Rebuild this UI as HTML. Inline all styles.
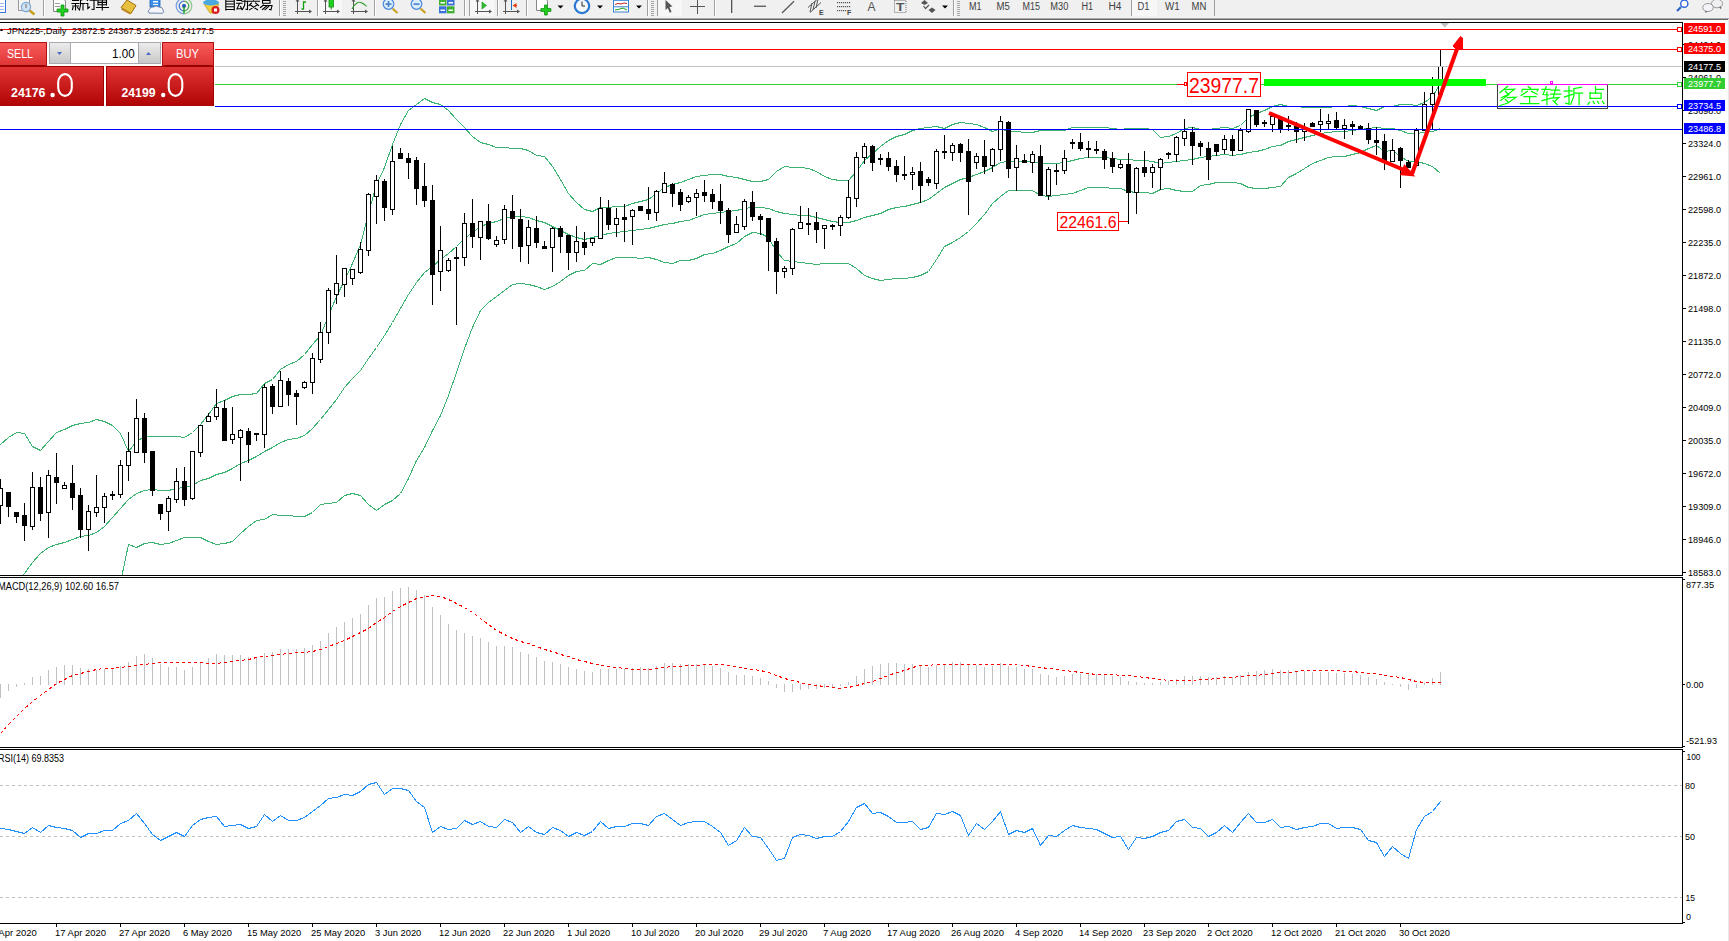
<!DOCTYPE html><html><head><meta charset="utf-8"><style>html,body{margin:0;padding:0;background:#fff;width:1729px;height:941px;overflow:hidden}svg{position:absolute;left:0;top:0}text{font-family:"Liberation Sans",sans-serif}</style></head><body>
<svg width="1729" height="941" viewBox="0 0 1729 941">
<defs><clipPath id="cm"><rect x="0" y="23" width="1682" height="552"/></clipPath><clipPath id="cmacd"><rect x="0" y="578" width="1682" height="169"/></clipPath><clipPath id="crsi"><rect x="0" y="750" width="1682" height="173"/></clipPath></defs>
<rect x="0" y="0" width="1729" height="17" fill="#f0f0f0"/>
<rect x="0" y="17" width="1729" height="1" fill="#f4f4f4"/>
<rect x="0" y="18" width="1729" height="1" fill="#a8a8a8"/>
<rect x="0" y="19" width="1729" height="1" fill="#666666"/>
<rect x="1728" y="19" width="1" height="922" fill="#e8e8e8"/>
<rect x="-1" y="-2" width="6.5" height="14.5" fill="#fff" stroke="#3a78d8" stroke-width="1"/>
<g stroke="#9bb8f0" stroke-width="1"><line x1="0" y1="3.5" x2="4" y2="3.5"/><line x1="0" y1="6.5" x2="4" y2="6.5"/><line x1="0" y1="9.5" x2="4" y2="9.5"/></g>
<rect x="18.5" y="-2" width="11" height="12.5" fill="#f4f4f4" stroke="#999" stroke-width="1"/>
<line x1="29" y1="10" x2="34.5" y2="14.5" stroke="#c8a020" stroke-width="2.5"/>
<circle cx="26" cy="7" r="4.6" fill="#cfe0f0" stroke="#7aa8d8" stroke-width="1.2"/>
<rect x="25" y="4" width="2" height="4" fill="#a0a8b0"/>
<rect x="43" y="0" width="1" height="16" fill="#a0a0a0"/><rect x="44" y="0" width="1" height="16" fill="#fff"/>
<path d="M53.5,-2 H62.5 L65.5,1 V11.5 H53.5 Z" fill="#fff" stroke="#888" stroke-width="1"/>
<g stroke="#999"><line x1="55" y1="3.5" x2="60" y2="3.5"/><line x1="55" y1="6.5" x2="60" y2="6.5"/></g>
<path d="M61,5 h3 v4 h4 v3 h-4 v4 h-3 v-4 h-4 v-3 h4 z" fill="#20d020" stroke="#109010" stroke-width="0.8"/>
<path d="M72.50,0.50 L78.50,0.50 M72.00,3.50 L79.00,3.50 M72.50,6.00 L78.50,6.00 M75.50,3.50 L75.50,10.00 M73.00,7.50 L72.50,9.50 M77.50,7.50 L78.50,9.00 M84.00,-1.00 L80.50,0.50 M80.50,0.50 L80.50,5.00 L79.50,10.00 M80.50,3.50 L84.50,3.50 M83.00,3.50 L83.00,10.00" fill="none" stroke="#000" stroke-width="1.1" stroke-linecap="square" stroke-linejoin="miter"/>
<path d="M86.50,-1.00 L87.50,0.50 M86.00,3.50 L87.80,3.50 L87.80,8.50 L89.50,7.00 M90.00,0.30 L97.00,0.30 M94.00,0.30 L94.00,9.50 L92.00,9.30" fill="none" stroke="#000" stroke-width="1.1" stroke-linecap="square" stroke-linejoin="miter"/>
<path d="M98.00,0.00 L98.00,5.00 M106.50,0.00 L106.50,5.00 M98.00,0.00 L106.50,0.00 M98.00,2.40 L106.50,2.40 M98.00,4.80 L106.50,4.80 M102.30,0.00 L102.30,10.00 M96.50,7.50 L108.50,7.50" fill="none" stroke="#000" stroke-width="1.1" stroke-linecap="square" stroke-linejoin="miter"/>
<polygon points="121,7.5 127,0 136,5.5 131,13.5" fill="#e8c040" stroke="#a07010" stroke-width="1"/>
<polygon points="122,8.5 131,13.5 130,14.5 121,9.5" fill="#c08820"/>
<rect x="150" y="-2" width="10" height="9" fill="#3a90e8" stroke="#2060c0" stroke-width="0.8"/>
<rect x="153" y="1" width="5" height="1.5" fill="#fff"/><rect x="153" y="4" width="5" height="1" fill="#fff"/>
<path d="M149,13 Q147,11 149.5,9.5 Q150,6.5 153.5,7 Q156,5 159,7 Q163,7 163,10 Q164.5,12 162.5,13.3 Z" fill="#f4f6fa" stroke="#7088b0" stroke-width="1"/>
<path d="M184,-1.8 A7.8,7.8 0 0 0 184,13.8" fill="none" stroke="#7aa0e0" stroke-width="1.3"/>
<path d="M184,-1.8 A7.8,7.8 0 0 1 184,13.8" fill="none" stroke="#90c890" stroke-width="1.3"/>
<path d="M184,1.2 A4.8,4.8 0 0 0 184,10.8" fill="none" stroke="#4a78d0" stroke-width="1.3"/>
<path d="M184,1.2 A4.8,4.8 0 0 1 184,10.8" fill="none" stroke="#50a850" stroke-width="1.3"/>
<circle cx="184" cy="6" r="2" fill="#2050c0"/>
<path d="M184,6.5 V13.5" fill="none" stroke="#20a020" stroke-width="1.5"/>
<polygon points="204,4 219,4 214,13 210,13" fill="#f0d040" stroke="#c0a020" stroke-width="0.8"/>
<ellipse cx="211" cy="2.5" rx="8" ry="3" fill="#4aa8e0"/>
<circle cx="215.5" cy="10" r="4" fill="#d82020"/><rect x="214" y="8.5" width="3" height="3" fill="#fff"/>
<path d="M228.50,-1.00 L226.50,-1.00 M225.80,-0.50 L225.80,10.00 M234.30,-0.50 L234.30,10.00 M225.80,1.20 L234.30,1.20 M225.80,4.00 L234.30,4.00 M225.80,6.80 L234.30,6.80 M225.80,9.50 L234.30,9.50" fill="none" stroke="#000" stroke-width="1.1" stroke-linecap="square" stroke-linejoin="miter"/>
<path d="M237.00,0.50 L241.50,0.50 M236.50,3.30 L242.00,3.30 M239.50,3.30 L237.00,8.80 L241.50,8.50 M240.50,6.50 L242.00,9.50 M242.00,1.30 L247.50,1.30 L247.50,9.50 L246.00,9.20 M245.00,-1.00 L244.70,5.00 L242.50,9.50" fill="none" stroke="#000" stroke-width="1.1" stroke-linecap="square" stroke-linejoin="miter"/>
<path d="M253.50,-1.50 L253.50,0.00 M248.00,1.30 L259.50,1.30 M251.50,3.00 L249.00,5.50 M255.50,3.00 L258.50,5.50 M250.50,5.00 L257.50,9.80 M257.00,5.00 L249.50,9.80" fill="none" stroke="#000" stroke-width="1.1" stroke-linecap="square" stroke-linejoin="miter"/>
<path d="M262.50,-1.00 L262.50,3.30 M270.00,-1.00 L270.00,3.30 M262.50,0.50 L270.00,0.50 M262.50,3.30 L270.00,3.30 M263.50,5.00 L260.50,7.50 M263.00,5.50 L272.00,5.50 L271.00,9.80 L269.50,9.50 M266.50,6.00 L262.50,9.50 M269.00,6.00 L265.00,9.80" fill="none" stroke="#000" stroke-width="1.1" stroke-linecap="square" stroke-linejoin="miter"/>
<rect x="279" y="0" width="1" height="16" fill="#a0a0a0"/><rect x="280" y="0" width="1" height="16" fill="#fff"/>
<rect x="283" y="1" width="3" height="1" fill="#a8a8a8"/>
<rect x="283" y="3" width="3" height="1" fill="#a8a8a8"/>
<rect x="283" y="5" width="3" height="1" fill="#a8a8a8"/>
<rect x="283" y="7" width="3" height="1" fill="#a8a8a8"/>
<rect x="283" y="9" width="3" height="1" fill="#a8a8a8"/>
<rect x="283" y="11" width="3" height="1" fill="#a8a8a8"/>
<rect x="283" y="13" width="3" height="1" fill="#a8a8a8"/>
<rect x="283" y="15" width="3" height="1" fill="#a8a8a8"/>
<g fill="#555"><rect x="297" y="0" width="1" height="14"/><rect x="295" y="11" width="14" height="1"/><polygon points="309,9.5 312,11.5 309,13.5"/><polygon points="295.5,1.5 297.5,-1 299.5,1.5"/></g>
<path d="M301.5,9 h2 v-7 h2.5" fill="none" stroke="#10a010" stroke-width="1.3"/>
<rect x="317" y="0" width="1" height="16" fill="#a0a0a0"/><rect x="318" y="0" width="1" height="16" fill="#fff"/>
<rect x="319" y="0" width="23" height="16" fill="#f7f7f7"/>
<g fill="#555"><rect x="325" y="0" width="1" height="14"/><rect x="323" y="11" width="14" height="1"/><polygon points="337,9.5 340,11.5 337,13.5"/><polygon points="323.5,1.5 325.5,-1 327.5,1.5"/></g>
<rect x="329" y="-1" width="4.5" height="8" fill="#20d020" stroke="#109010" stroke-width="0.8"/><rect x="330.7" y="7" width="1" height="2.5" fill="#109010"/>
<g fill="#555"><rect x="353" y="0" width="1" height="14"/><rect x="351" y="11" width="14" height="1"/><polygon points="365,9.5 368,11.5 365,13.5"/><polygon points="351.5,1.5 353.5,-1 355.5,1.5"/></g>
<path d="M352,9 Q357,0 362,3 T366,6.5" fill="none" stroke="#30a030" stroke-width="1.2"/>
<rect x="374" y="0" width="1" height="16" fill="#a0a0a0"/><rect x="375" y="0" width="1" height="16" fill="#fff"/>
<line x1="392.5" y1="8.5" x2="397.5" y2="13" stroke="#c8a020" stroke-width="2.2"/>
<circle cx="388.5" cy="4" r="5.3" fill="#d8ecfa" stroke="#4a88d8" stroke-width="1.2"/>
<rect x="385.5" y="3.3" width="6" height="1.6" fill="#4a80c8"/>
<rect x="387.7" y="1" width="1.6" height="6" fill="#4a80c8"/>
<line x1="420.5" y1="8.5" x2="425.5" y2="13" stroke="#c8a020" stroke-width="2.2"/>
<circle cx="416.5" cy="4" r="5.3" fill="#d8ecfa" stroke="#4a88d8" stroke-width="1.2"/>
<rect x="413.5" y="3.3" width="6" height="1.6" fill="#4a80c8"/>
<rect x="439" y="-1" width="7.5" height="6.5" fill="#40b030"/><rect x="447" y="-1" width="7.5" height="6.5" fill="#3a70d8"/><rect x="439" y="6.3" width="7.5" height="7" fill="#3a70d8"/><rect x="447" y="6.3" width="7.5" height="7" fill="#40b030"/>
<g fill="#fff"><rect x="440.5" y="2" width="4.5" height="1.5"/><rect x="448.5" y="2" width="4.5" height="1.5"/><rect x="440.5" y="9.5" width="4.5" height="1.5"/><rect x="448.5" y="9.5" width="4.5" height="1.5"/></g>
<rect x="464" y="0" width="1" height="16" fill="#a0a0a0"/><rect x="465" y="0" width="1" height="16" fill="#fff"/>
<rect x="469" y="0" width="1" height="16" fill="#a0a0a0"/>
<rect x="470" y="0" width="24" height="16" fill="#f7f7f7"/>
<g fill="#555"><rect x="477" y="0" width="1" height="14"/><rect x="475" y="11" width="14" height="1"/><polygon points="489,9.5 492,11.5 489,13.5"/><polygon points="475.5,1.5 477.5,-1 479.5,1.5"/></g>
<polygon points="482,2 486.5,5.5 482,9" fill="#30c030" stroke="#109010" stroke-width="0.6"/>
<rect x="497" y="0" width="1" height="16" fill="#a0a0a0"/><rect x="498" y="0" width="1" height="16" fill="#fff"/>
<g fill="#555"><rect x="505" y="0" width="1" height="14"/><rect x="503" y="11" width="14" height="1"/><polygon points="517,9.5 520,11.5 517,13.5"/><polygon points="503.5,1.5 505.5,-1 507.5,1.5"/></g>
<rect x="511" y="-1" width="1" height="11" fill="#2070c0"/><polygon points="512.5,5.5 516.5,3 516.5,8" fill="#e04010"/><rect x="514" y="5" width="3" height="1" fill="#e04010"/>
<rect x="526" y="0" width="1" height="16" fill="#a0a0a0"/><rect x="527" y="0" width="1" height="16" fill="#fff"/>
<path d="M536.5,-2 H545 L547.5,1 V10.5 H536.5 Z" fill="#fff" stroke="#888" stroke-width="1"/>
<path d="M544.5,5 h2.8 v3.6 h3.6 v2.8 h-3.6 v3.6 h-2.8 v-3.6 h-3.6 v-2.8 h3.6 z" fill="#20d020" stroke="#109010" stroke-width="0.8"/>
<polygon points="557.5,5.5 563.5,5.5 560.5,8.5" fill="#000"/>
<circle cx="582" cy="6" r="7.2" fill="#f4f8fc" stroke="#2a78d0" stroke-width="2.2"/>
<path d="M582,1.5 V6 H585" fill="none" stroke="#222" stroke-width="1"/>
<polygon points="597,5.5 603,5.5 600,8.5" fill="#000"/>
<rect x="613.5" y="-1.5" width="15" height="13.5" fill="#fff" stroke="#3a80d0" stroke-width="1"/>
<rect x="614" y="6.3" width="14" height="1" fill="#3a80d0"/><rect x="614" y="-1" width="14" height="2" fill="#5a9ae0"/>
<path d="M615,4.5 L618,3.5 L621,4 L624,3 L627,3.5" fill="none" stroke="#c02020" stroke-width="1"/>
<path d="M615,10 L618,9.5 L620,9 L623,8 L627,10" fill="none" stroke="#20a020" stroke-width="1"/>
<polygon points="636,5.5 642,5.5 639,8.5" fill="#000"/>
<rect x="647" y="0" width="1" height="16" fill="#a0a0a0"/><rect x="648" y="0" width="1" height="16" fill="#fff"/>
<rect x="651" y="1" width="3" height="1" fill="#a8a8a8"/>
<rect x="651" y="3" width="3" height="1" fill="#a8a8a8"/>
<rect x="651" y="5" width="3" height="1" fill="#a8a8a8"/>
<rect x="651" y="7" width="3" height="1" fill="#a8a8a8"/>
<rect x="651" y="9" width="3" height="1" fill="#a8a8a8"/>
<rect x="651" y="11" width="3" height="1" fill="#a8a8a8"/>
<rect x="651" y="13" width="3" height="1" fill="#a8a8a8"/>
<rect x="651" y="15" width="3" height="1" fill="#a8a8a8"/>
<rect x="657" y="0" width="1" height="16" fill="#a0a0a0"/>
<rect x="658" y="0" width="24" height="16" fill="#f7f7f7"/>
<polygon points="665.5,0 672.5,6.5 669.5,7 671.5,12 669.8,12.8 667.8,8 665.5,10" fill="#555"/>
<rect x="697" y="0" width="1" height="14" fill="#555"/><rect x="690" y="6" width="15" height="1" fill="#555"/>
<rect x="714" y="0" width="1" height="16" fill="#a0a0a0"/><rect x="715" y="0" width="1" height="16" fill="#fff"/>
<rect x="731" y="0" width="1.3" height="13" fill="#555"/>
<rect x="754" y="5.6" width="12" height="1.3" fill="#555"/>
<line x1="782" y1="13" x2="794" y2="1.3" stroke="#555" stroke-width="1.2"/>
<g stroke="#555" stroke-width="1"><line x1="808" y1="7.5" x2="817" y2="-0.5"/><line x1="810" y1="12.5" x2="821" y2="2.5"/><line x1="812" y1="3" x2="810" y2="12"/><line x1="815" y1="1" x2="813" y2="10"/><line x1="818" y1="-1" x2="816" y2="8"/></g>
<text x="819" y="14.8" font-size="7" font-weight="bold" fill="#444">E</text>
<g fill="#555">
<rect x="837" y="2" width="1.2" height="1.2"/>
<rect x="839" y="2" width="1.2" height="1.2"/>
<rect x="841" y="2" width="1.2" height="1.2"/>
<rect x="843" y="2" width="1.2" height="1.2"/>
<rect x="845" y="2" width="1.2" height="1.2"/>
<rect x="847" y="2" width="1.2" height="1.2"/>
<rect x="849" y="2" width="1.2" height="1.2"/>
<rect x="837" y="6" width="1.2" height="1.2"/>
<rect x="839" y="6" width="1.2" height="1.2"/>
<rect x="841" y="6" width="1.2" height="1.2"/>
<rect x="843" y="6" width="1.2" height="1.2"/>
<rect x="845" y="6" width="1.2" height="1.2"/>
<rect x="847" y="6" width="1.2" height="1.2"/>
<rect x="849" y="6" width="1.2" height="1.2"/>
<rect x="837" y="10" width="1.2" height="1.2"/>
<rect x="839" y="10" width="1.2" height="1.2"/>
<rect x="841" y="10" width="1.2" height="1.2"/>
<rect x="843" y="10" width="1.2" height="1.2"/>
<rect x="845" y="10" width="1.2" height="1.2"/>
</g>
<text x="847" y="14.8" font-size="7" font-weight="bold" fill="#444">F</text>
<text x="867.5" y="11" font-size="12" fill="#555" textLength="8" lengthAdjust="spacingAndGlyphs">A</text>
<rect x="894.5" y="0.5" width="11.5" height="12" fill="none" stroke="#555" stroke-width="0.8" stroke-dasharray="1 1"/>
<text x="896" y="11" font-size="11" font-weight="bold" fill="#555" textLength="8.5" lengthAdjust="spacingAndGlyphs">T</text>
<polygon points="921,3 924.5,0 928,3 924.5,5" fill="#555"/><polygon points="928.5,10 932,7.5 935.5,10 932,13" fill="#555"/><path d="M923.5,6 L925.5,8.5 L929,5" fill="none" stroke="#555" stroke-width="1.2"/>
<polygon points="942,5.5 948,5.5 945,8.5" fill="#000"/>
<rect x="953" y="0" width="1" height="16" fill="#a0a0a0"/><rect x="954" y="0" width="1" height="16" fill="#fff"/>
<rect x="957" y="1" width="3" height="1" fill="#a8a8a8"/>
<rect x="957" y="3" width="3" height="1" fill="#a8a8a8"/>
<rect x="957" y="5" width="3" height="1" fill="#a8a8a8"/>
<rect x="957" y="7" width="3" height="1" fill="#a8a8a8"/>
<rect x="957" y="9" width="3" height="1" fill="#a8a8a8"/>
<rect x="957" y="11" width="3" height="1" fill="#a8a8a8"/>
<rect x="957" y="13" width="3" height="1" fill="#a8a8a8"/>
<rect x="957" y="15" width="3" height="1" fill="#a8a8a8"/>
<rect x="1131" y="0" width="1" height="16" fill="#a0a0a0"/>
<rect x="1132" y="0" width="25" height="16" fill="#f7f7f7"/>
<g font-size="10" fill="#404040">
<text x="969" y="9.8" textLength="12.5" lengthAdjust="spacingAndGlyphs">M1</text>
<text x="996.5" y="9.8" textLength="13.3" lengthAdjust="spacingAndGlyphs">M5</text>
<text x="1022.5" y="9.8" textLength="17.5" lengthAdjust="spacingAndGlyphs">M15</text>
<text x="1050.3" y="9.8" textLength="18" lengthAdjust="spacingAndGlyphs">M30</text>
<text x="1081.5" y="9.8" textLength="11.7" lengthAdjust="spacingAndGlyphs">H1</text>
<text x="1108.4" y="9.8" textLength="13" lengthAdjust="spacingAndGlyphs">H4</text>
<text x="1137.4" y="9.8" textLength="12" lengthAdjust="spacingAndGlyphs">D1</text>
<text x="1165" y="9.8" textLength="14.6" lengthAdjust="spacingAndGlyphs">W1</text>
<text x="1191.6" y="9.8" textLength="14.8" lengthAdjust="spacingAndGlyphs">MN</text>
</g>
<rect x="1214" y="0" width="1" height="16" fill="#a0a0a0"/>
<line x1="1681" y1="7" x2="1677" y2="11" stroke="#2a60c8" stroke-width="2.2"/>
<circle cx="1684.3" cy="3.7" r="3.6" fill="#fff" stroke="#2a60d8" stroke-width="1.4"/>
<ellipse cx="1717" cy="3.5" rx="5.5" ry="4.3" fill="#f0f0f4" stroke="#909090" stroke-width="0.9"/>
<polygon points="1719,7 1721,9.5 1721.5,6.5" fill="#707070"/>
<ellipse cx="1708" cy="7.5" rx="5.3" ry="4" fill="#f4f4f8" stroke="#909090" stroke-width="0.9"/>
<polygon points="1705,11 1705.5,13 1708,11" fill="#707070"/>
<g shape-rendering="crispEdges">
<rect x="0" y="22" width="1683" height="1" fill="#000"/>
<rect x="0" y="575" width="1683" height="1" fill="#000"/>
<rect x="0" y="577" width="1683" height="1" fill="#000"/>
<rect x="0" y="747" width="1683" height="1" fill="#000"/>
<rect x="0" y="749" width="1683" height="1" fill="#000"/>
<rect x="0" y="923" width="1683" height="1" fill="#000"/>
<rect x="1682" y="22" width="1" height="554" fill="#000"/>
<rect x="1682" y="577" width="1" height="171" fill="#000"/>
<rect x="1682" y="749" width="1" height="175" fill="#000"/>
</g>
<g clip-path="url(#cm)" shape-rendering="crispEdges">
<polyline points="0.5,444.5 8.5,437.5 16.5,432.5 24.5,433.5 32.5,446.5 40.5,450.5 48.5,441.5 56.5,432.5 64.5,429.5 72.5,425.5 80.5,423.5 88.5,422.5 96.5,419.5 104.5,421.5 112.5,425.5 120.5,433.5 128.5,451.5 136.5,441.5 144.5,436.5 152.5,436.5 160.5,436.5 168.5,436.5 176.5,436.5 184.5,437.5 192.5,432.5 200.5,424.5 208.5,414.5 216.5,403.5 224.5,400.5 232.5,396.5 240.5,394.5 248.5,394.5 256.5,393.5 264.5,383.5 272.5,379.5 280.5,369.5 288.5,364.5 296.5,361.5 304.5,354.5 312.5,344.5 320.5,335.5 328.5,315.5 336.5,296.5 344.5,280.5 352.5,263.5 360.5,244.5 368.5,213.5 376.5,184.5 384.5,167.5 392.5,144.5 400.5,124.5 408.5,110.5 416.5,104.5 424.5,98.5 432.5,102.5 440.5,104.5 448.5,110.5 456.5,119.5 464.5,127.5 472.5,136.5 480.5,142.5 488.5,144.5 496.5,147.5 504.5,147.5 512.5,148.5 520.5,148.5 528.5,150.5 536.5,155.5 544.5,156.5 552.5,166.5 560.5,179.5 568.5,193.5 576.5,202.5 584.5,209.5 592.5,211.5 600.5,207.5 608.5,207.5 616.5,206.5 624.5,206.5 632.5,203.5 640.5,201.5 648.5,199.5 656.5,193.5 664.5,187.5 672.5,184.5 680.5,182.5 688.5,179.5 696.5,176.5 704.5,175.5 712.5,174.5 720.5,174.5 728.5,176.5 736.5,177.5 744.5,179.5 752.5,181.5 760.5,181.5 768.5,179.5 776.5,171.5 784.5,166.5 792.5,167.5 800.5,167.5 808.5,168.5 816.5,171.5 824.5,176.5 832.5,179.5 840.5,180.5 848.5,180.5 856.5,171.5 864.5,160.5 872.5,153.5 880.5,146.5 888.5,140.5 896.5,136.5 904.5,134.5 912.5,130.5 920.5,128.5 928.5,127.5 936.5,126.5 944.5,128.5 952.5,124.5 960.5,122.5 968.5,123.5 976.5,124.5 984.5,127.5 992.5,131.5 1000.5,128.5 1008.5,131.5 1016.5,131.5 1024.5,132.5 1032.5,132.5 1040.5,130.5 1048.5,130.5 1056.5,130.5 1064.5,130.5 1072.5,127.5 1080.5,127.5 1088.5,127.5 1096.5,127.5 1104.5,127.5 1112.5,128.5 1120.5,129.5 1128.5,128.5 1136.5,128.5 1144.5,128.5 1152.5,129.5 1160.5,137.5 1168.5,136.5 1176.5,133.5 1184.5,128.5 1192.5,127.5 1200.5,129.5 1208.5,129.5 1216.5,128.5 1224.5,127.5 1232.5,128.5 1240.5,125.5 1248.5,117.5 1256.5,113.5 1264.5,110.5 1272.5,106.5 1280.5,104.5 1288.5,106.5 1296.5,106.5 1304.5,107.5 1312.5,107.5 1320.5,107.5 1328.5,107.5 1336.5,106.5 1344.5,106.5 1352.5,105.5 1360.5,106.5 1368.5,108.5 1376.5,110.5 1384.5,106.5 1392.5,106.5 1400.5,104.5 1408.5,104.5 1416.5,105.5 1424.5,102.5 1432.5,96.5 1440.5,83.5" fill="none" stroke="#3cb371" stroke-width="1"/>
<polyline points="0.5,605.5 8.5,593.5 16.5,584.5 24.5,573.5 32.5,562.5 40.5,553.5 48.5,547.5 56.5,544.5 64.5,542.5 72.5,539.5 80.5,536.5 88.5,535.5 96.5,532.5 104.5,526.5 112.5,517.5 120.5,508.5 128.5,499.5 136.5,493.5 144.5,490.5 152.5,489.5 160.5,490.5 168.5,490.5 176.5,488.5 184.5,487.5 192.5,485.5 200.5,480.5 208.5,478.5 216.5,474.5 224.5,472.5 232.5,468.5 240.5,463.5 248.5,460.5 256.5,456.5 264.5,451.5 272.5,447.5 280.5,442.5 288.5,439.5 296.5,438.5 304.5,435.5 312.5,428.5 320.5,419.5 328.5,409.5 336.5,399.5 344.5,387.5 352.5,378.5 360.5,370.5 368.5,358.5 376.5,347.5 384.5,335.5 392.5,322.5 400.5,308.5 408.5,294.5 416.5,282.5 424.5,272.5 432.5,266.5 440.5,259.5 448.5,253.5 456.5,246.5 464.5,238.5 472.5,232.5 480.5,226.5 488.5,223.5 496.5,221.5 504.5,218.5 512.5,216.5 520.5,216.5 528.5,217.5 536.5,220.5 544.5,222.5 552.5,226.5 560.5,230.5 568.5,234.5 576.5,237.5 584.5,239.5 592.5,237.5 600.5,235.5 608.5,233.5 616.5,232.5 624.5,231.5 632.5,230.5 640.5,229.5 648.5,228.5 656.5,226.5 664.5,224.5 672.5,223.5 680.5,221.5 688.5,220.5 696.5,217.5 704.5,214.5 712.5,213.5 720.5,212.5 728.5,211.5 736.5,210.5 744.5,208.5 752.5,207.5 760.5,207.5 768.5,208.5 776.5,211.5 784.5,213.5 792.5,214.5 800.5,215.5 808.5,215.5 816.5,217.5 824.5,219.5 832.5,221.5 840.5,222.5 848.5,222.5 856.5,220.5 864.5,217.5 872.5,215.5 880.5,213.5 888.5,209.5 896.5,207.5 904.5,206.5 912.5,204.5 920.5,202.5 928.5,199.5 936.5,193.5 944.5,187.5 952.5,183.5 960.5,179.5 968.5,177.5 976.5,174.5 984.5,171.5 992.5,167.5 1000.5,162.5 1008.5,161.5 1016.5,161.5 1024.5,161.5 1032.5,161.5 1040.5,163.5 1048.5,163.5 1056.5,163.5 1064.5,162.5 1072.5,160.5 1080.5,158.5 1088.5,157.5 1096.5,157.5 1104.5,157.5 1112.5,158.5 1120.5,159.5 1128.5,159.5 1136.5,160.5 1144.5,160.5 1152.5,161.5 1160.5,163.5 1168.5,162.5 1176.5,161.5 1184.5,160.5 1192.5,159.5 1200.5,157.5 1208.5,156.5 1216.5,155.5 1224.5,154.5 1232.5,155.5 1240.5,154.5 1248.5,152.5 1256.5,151.5 1264.5,149.5 1272.5,146.5 1280.5,145.5 1288.5,141.5 1296.5,139.5 1304.5,137.5 1312.5,135.5 1320.5,133.5 1328.5,132.5 1336.5,131.5 1344.5,131.5 1352.5,130.5 1360.5,129.5 1368.5,128.5 1376.5,127.5 1384.5,128.5 1392.5,128.5 1400.5,130.5 1408.5,133.5 1416.5,133.5 1424.5,132.5 1432.5,131.5 1440.5,128.5" fill="none" stroke="#3cb371" stroke-width="1"/>
<polyline points="112.5,610.5 120.5,582.5 128.5,544.5 136.5,547.5 144.5,543.5 152.5,542.5 160.5,544.5 168.5,543.5 176.5,540.5 184.5,537.5 192.5,537.5 200.5,537.5 208.5,541.5 216.5,544.5 224.5,543.5 232.5,541.5 240.5,533.5 248.5,526.5 256.5,520.5 264.5,519.5 272.5,514.5 280.5,515.5 288.5,515.5 296.5,516.5 304.5,516.5 312.5,512.5 320.5,504.5 328.5,503.5 336.5,502.5 344.5,495.5 352.5,493.5 360.5,495.5 368.5,504.5 376.5,510.5 384.5,504.5 392.5,500.5 400.5,493.5 408.5,478.5 416.5,460.5 424.5,447.5 432.5,430.5 440.5,415.5 448.5,395.5 456.5,372.5 464.5,348.5 472.5,327.5 480.5,310.5 488.5,302.5 496.5,296.5 504.5,290.5 512.5,284.5 520.5,283.5 528.5,284.5 536.5,286.5 544.5,289.5 552.5,286.5 560.5,281.5 568.5,275.5 576.5,271.5 584.5,270.5 592.5,263.5 600.5,264.5 608.5,260.5 616.5,257.5 624.5,257.5 632.5,257.5 640.5,258.5 648.5,257.5 656.5,259.5 664.5,262.5 672.5,263.5 680.5,260.5 688.5,260.5 696.5,258.5 704.5,254.5 712.5,253.5 720.5,250.5 728.5,246.5 736.5,243.5 744.5,236.5 752.5,232.5 760.5,233.5 768.5,237.5 776.5,251.5 784.5,260.5 792.5,261.5 800.5,262.5 808.5,263.5 816.5,264.5 824.5,263.5 832.5,263.5 840.5,263.5 848.5,263.5 856.5,268.5 864.5,275.5 872.5,278.5 880.5,280.5 888.5,279.5 896.5,278.5 904.5,278.5 912.5,277.5 920.5,275.5 928.5,271.5 936.5,259.5 944.5,246.5 952.5,242.5 960.5,237.5 968.5,231.5 976.5,223.5 984.5,214.5 992.5,203.5 1000.5,196.5 1008.5,190.5 1016.5,190.5 1024.5,190.5 1032.5,190.5 1040.5,195.5 1048.5,196.5 1056.5,195.5 1064.5,194.5 1072.5,193.5 1080.5,190.5 1088.5,187.5 1096.5,187.5 1104.5,187.5 1112.5,188.5 1120.5,188.5 1128.5,191.5 1136.5,192.5 1144.5,192.5 1152.5,193.5 1160.5,189.5 1168.5,188.5 1176.5,190.5 1184.5,191.5 1192.5,191.5 1200.5,185.5 1208.5,184.5 1216.5,182.5 1224.5,182.5 1232.5,182.5 1240.5,183.5 1248.5,187.5 1256.5,188.5 1264.5,188.5 1272.5,187.5 1280.5,186.5 1288.5,177.5 1296.5,173.5 1304.5,168.5 1312.5,163.5 1320.5,160.5 1328.5,157.5 1336.5,156.5 1344.5,156.5 1352.5,154.5 1360.5,152.5 1368.5,148.5 1376.5,145.5 1384.5,151.5 1392.5,150.5 1400.5,156.5 1408.5,161.5 1416.5,161.5 1424.5,163.5 1432.5,166.5 1440.5,173.5" fill="none" stroke="#3cb371" stroke-width="1"/>
<rect x="0" y="479" width="1" height="45" fill="#000"/>
<rect x="-2" y="488" width="5" height="18" fill="#000"/>
<rect x="-1" y="489" width="3" height="16" fill="#fff"/>
<rect x="8" y="492" width="1" height="25" fill="#000"/>
<rect x="6" y="492" width="5" height="15" fill="#000"/>
<rect x="16" y="512" width="1" height="11" fill="#000"/>
<rect x="14" y="512" width="5" height="5" fill="#000"/>
<rect x="24" y="503" width="1" height="38" fill="#000"/>
<rect x="22" y="515" width="5" height="11" fill="#000"/>
<rect x="32" y="472" width="1" height="58" fill="#000"/>
<rect x="30" y="487" width="5" height="40" fill="#000"/>
<rect x="31" y="488" width="3" height="38" fill="#fff"/>
<rect x="40" y="477" width="1" height="44" fill="#000"/>
<rect x="38" y="487" width="5" height="27" fill="#000"/>
<rect x="48" y="470" width="1" height="68" fill="#000"/>
<rect x="46" y="475" width="5" height="38" fill="#000"/>
<rect x="47" y="476" width="3" height="36" fill="#fff"/>
<rect x="56" y="453" width="1" height="51" fill="#000"/>
<rect x="54" y="477" width="5" height="6" fill="#000"/>
<rect x="64" y="482" width="1" height="7" fill="#000"/>
<rect x="62" y="485" width="5" height="4" fill="#000"/>
<rect x="63" y="486" width="3" height="2" fill="#fff"/>
<rect x="72" y="465" width="1" height="45" fill="#000"/>
<rect x="70" y="483" width="5" height="15" fill="#000"/>
<rect x="80" y="488" width="1" height="50" fill="#000"/>
<rect x="78" y="495" width="5" height="35" fill="#000"/>
<rect x="88" y="505" width="1" height="46" fill="#000"/>
<rect x="86" y="511" width="5" height="19" fill="#000"/>
<rect x="87" y="512" width="3" height="17" fill="#fff"/>
<rect x="96" y="475" width="1" height="42" fill="#000"/>
<rect x="94" y="507" width="5" height="6" fill="#000"/>
<rect x="95" y="508" width="3" height="4" fill="#fff"/>
<rect x="104" y="493" width="1" height="30" fill="#000"/>
<rect x="102" y="496" width="5" height="12" fill="#000"/>
<rect x="103" y="497" width="3" height="10" fill="#fff"/>
<rect x="112" y="491" width="1" height="9" fill="#000"/>
<rect x="110" y="494" width="5" height="2" fill="#000"/>
<rect x="120" y="460" width="1" height="38" fill="#000"/>
<rect x="118" y="465" width="5" height="30" fill="#000"/>
<rect x="119" y="466" width="3" height="28" fill="#fff"/>
<rect x="128" y="432" width="1" height="49" fill="#000"/>
<rect x="126" y="451" width="5" height="15" fill="#000"/>
<rect x="127" y="452" width="3" height="13" fill="#fff"/>
<rect x="136" y="399" width="1" height="54" fill="#000"/>
<rect x="134" y="418" width="5" height="35" fill="#000"/>
<rect x="135" y="419" width="3" height="33" fill="#fff"/>
<rect x="144" y="413" width="1" height="50" fill="#000"/>
<rect x="142" y="418" width="5" height="35" fill="#000"/>
<rect x="152" y="451" width="1" height="45" fill="#000"/>
<rect x="150" y="451" width="5" height="40" fill="#000"/>
<rect x="160" y="504" width="1" height="16" fill="#000"/>
<rect x="158" y="504" width="5" height="10" fill="#000"/>
<rect x="168" y="496" width="1" height="35" fill="#000"/>
<rect x="166" y="498" width="5" height="14" fill="#000"/>
<rect x="167" y="499" width="3" height="12" fill="#fff"/>
<rect x="176" y="468" width="1" height="35" fill="#000"/>
<rect x="174" y="481" width="5" height="19" fill="#000"/>
<rect x="175" y="482" width="3" height="17" fill="#fff"/>
<rect x="184" y="467" width="1" height="39" fill="#000"/>
<rect x="182" y="481" width="5" height="19" fill="#000"/>
<rect x="192" y="451" width="1" height="49" fill="#000"/>
<rect x="190" y="451" width="5" height="48" fill="#000"/>
<rect x="191" y="452" width="3" height="46" fill="#fff"/>
<rect x="200" y="425" width="1" height="32" fill="#000"/>
<rect x="198" y="425" width="5" height="28" fill="#000"/>
<rect x="199" y="426" width="3" height="26" fill="#fff"/>
<rect x="208" y="413" width="1" height="9" fill="#000"/>
<rect x="206" y="416" width="5" height="6" fill="#000"/>
<rect x="207" y="417" width="3" height="4" fill="#fff"/>
<rect x="216" y="389" width="1" height="31" fill="#000"/>
<rect x="214" y="407" width="5" height="10" fill="#000"/>
<rect x="215" y="408" width="3" height="8" fill="#fff"/>
<rect x="224" y="400" width="1" height="41" fill="#000"/>
<rect x="222" y="408" width="5" height="33" fill="#000"/>
<rect x="232" y="407" width="1" height="37" fill="#000"/>
<rect x="230" y="434" width="5" height="6" fill="#000"/>
<rect x="231" y="435" width="3" height="4" fill="#fff"/>
<rect x="240" y="429" width="1" height="52" fill="#000"/>
<rect x="238" y="430" width="5" height="8" fill="#000"/>
<rect x="239" y="431" width="3" height="6" fill="#fff"/>
<rect x="248" y="428" width="1" height="35" fill="#000"/>
<rect x="246" y="431" width="5" height="14" fill="#000"/>
<rect x="256" y="433" width="1" height="8" fill="#000"/>
<rect x="254" y="433" width="5" height="2" fill="#000"/>
<rect x="264" y="384" width="1" height="64" fill="#000"/>
<rect x="262" y="387" width="5" height="48" fill="#000"/>
<rect x="263" y="388" width="3" height="46" fill="#fff"/>
<rect x="272" y="384" width="1" height="30" fill="#000"/>
<rect x="270" y="386" width="5" height="21" fill="#000"/>
<rect x="280" y="371" width="1" height="36" fill="#000"/>
<rect x="278" y="380" width="5" height="27" fill="#000"/>
<rect x="279" y="381" width="3" height="25" fill="#fff"/>
<rect x="288" y="378" width="1" height="28" fill="#000"/>
<rect x="286" y="381" width="5" height="14" fill="#000"/>
<rect x="296" y="390" width="1" height="35" fill="#000"/>
<rect x="294" y="393" width="5" height="4" fill="#000"/>
<rect x="304" y="381" width="1" height="8" fill="#000"/>
<rect x="302" y="382" width="5" height="6" fill="#000"/>
<rect x="303" y="383" width="3" height="4" fill="#fff"/>
<rect x="312" y="353" width="1" height="41" fill="#000"/>
<rect x="310" y="358" width="5" height="25" fill="#000"/>
<rect x="311" y="359" width="3" height="23" fill="#fff"/>
<rect x="320" y="322" width="1" height="41" fill="#000"/>
<rect x="318" y="332" width="5" height="28" fill="#000"/>
<rect x="319" y="333" width="3" height="26" fill="#fff"/>
<rect x="328" y="288" width="1" height="56" fill="#000"/>
<rect x="326" y="290" width="5" height="43" fill="#000"/>
<rect x="327" y="291" width="3" height="41" fill="#fff"/>
<rect x="336" y="255" width="1" height="49" fill="#000"/>
<rect x="334" y="283" width="5" height="12" fill="#000"/>
<rect x="335" y="284" width="3" height="10" fill="#fff"/>
<rect x="344" y="268" width="1" height="29" fill="#000"/>
<rect x="342" y="268" width="5" height="17" fill="#000"/>
<rect x="343" y="269" width="3" height="15" fill="#fff"/>
<rect x="352" y="269" width="1" height="16" fill="#000"/>
<rect x="350" y="269" width="5" height="10" fill="#000"/>
<rect x="351" y="270" width="3" height="8" fill="#fff"/>
<rect x="360" y="242" width="1" height="32" fill="#000"/>
<rect x="358" y="249" width="5" height="24" fill="#000"/>
<rect x="359" y="250" width="3" height="22" fill="#fff"/>
<rect x="368" y="193" width="1" height="63" fill="#000"/>
<rect x="366" y="194" width="5" height="57" fill="#000"/>
<rect x="367" y="195" width="3" height="55" fill="#fff"/>
<rect x="376" y="175" width="1" height="49" fill="#000"/>
<rect x="374" y="180" width="5" height="17" fill="#000"/>
<rect x="375" y="181" width="3" height="15" fill="#fff"/>
<rect x="384" y="179" width="1" height="42" fill="#000"/>
<rect x="382" y="181" width="5" height="27" fill="#000"/>
<rect x="392" y="146" width="1" height="69" fill="#000"/>
<rect x="390" y="161" width="5" height="49" fill="#000"/>
<rect x="391" y="162" width="3" height="47" fill="#fff"/>
<rect x="400" y="148" width="1" height="11" fill="#000"/>
<rect x="398" y="153" width="5" height="6" fill="#000"/>
<rect x="408" y="153" width="1" height="26" fill="#000"/>
<rect x="406" y="158" width="5" height="5" fill="#000"/>
<rect x="416" y="157" width="1" height="48" fill="#000"/>
<rect x="414" y="160" width="5" height="29" fill="#000"/>
<rect x="424" y="163" width="1" height="44" fill="#000"/>
<rect x="422" y="186" width="5" height="15" fill="#000"/>
<rect x="432" y="185" width="1" height="120" fill="#000"/>
<rect x="430" y="200" width="5" height="75" fill="#000"/>
<rect x="440" y="226" width="1" height="65" fill="#000"/>
<rect x="438" y="250" width="5" height="22" fill="#000"/>
<rect x="439" y="251" width="3" height="20" fill="#fff"/>
<rect x="448" y="258" width="1" height="14" fill="#000"/>
<rect x="446" y="260" width="5" height="11" fill="#000"/>
<rect x="447" y="261" width="3" height="9" fill="#fff"/>
<rect x="456" y="247" width="1" height="78" fill="#000"/>
<rect x="454" y="257" width="5" height="2" fill="#000"/>
<rect x="464" y="213" width="1" height="53" fill="#000"/>
<rect x="462" y="223" width="5" height="35" fill="#000"/>
<rect x="463" y="224" width="3" height="33" fill="#fff"/>
<rect x="472" y="199" width="1" height="49" fill="#000"/>
<rect x="470" y="223" width="5" height="14" fill="#000"/>
<rect x="480" y="221" width="1" height="39" fill="#000"/>
<rect x="478" y="221" width="5" height="17" fill="#000"/>
<rect x="479" y="222" width="3" height="15" fill="#fff"/>
<rect x="488" y="204" width="1" height="36" fill="#000"/>
<rect x="486" y="221" width="5" height="18" fill="#000"/>
<rect x="496" y="236" width="1" height="11" fill="#000"/>
<rect x="494" y="240" width="5" height="5" fill="#000"/>
<rect x="495" y="241" width="3" height="3" fill="#fff"/>
<rect x="504" y="205" width="1" height="39" fill="#000"/>
<rect x="502" y="209" width="5" height="31" fill="#000"/>
<rect x="503" y="210" width="3" height="29" fill="#fff"/>
<rect x="512" y="195" width="1" height="54" fill="#000"/>
<rect x="510" y="211" width="5" height="8" fill="#000"/>
<rect x="520" y="209" width="1" height="53" fill="#000"/>
<rect x="518" y="219" width="5" height="28" fill="#000"/>
<rect x="528" y="220" width="1" height="44" fill="#000"/>
<rect x="526" y="227" width="5" height="19" fill="#000"/>
<rect x="527" y="228" width="3" height="17" fill="#fff"/>
<rect x="536" y="216" width="1" height="32" fill="#000"/>
<rect x="534" y="228" width="5" height="15" fill="#000"/>
<rect x="544" y="241" width="1" height="8" fill="#000"/>
<rect x="542" y="246" width="5" height="3" fill="#000"/>
<rect x="552" y="227" width="1" height="45" fill="#000"/>
<rect x="550" y="228" width="5" height="20" fill="#000"/>
<rect x="551" y="229" width="3" height="18" fill="#fff"/>
<rect x="560" y="226" width="1" height="27" fill="#000"/>
<rect x="558" y="228" width="5" height="9" fill="#000"/>
<rect x="568" y="235" width="1" height="35" fill="#000"/>
<rect x="566" y="235" width="5" height="18" fill="#000"/>
<rect x="576" y="226" width="1" height="36" fill="#000"/>
<rect x="574" y="241" width="5" height="12" fill="#000"/>
<rect x="575" y="242" width="3" height="10" fill="#fff"/>
<rect x="584" y="232" width="1" height="23" fill="#000"/>
<rect x="582" y="242" width="5" height="6" fill="#000"/>
<rect x="592" y="238" width="1" height="8" fill="#000"/>
<rect x="590" y="238" width="5" height="5" fill="#000"/>
<rect x="591" y="239" width="3" height="3" fill="#fff"/>
<rect x="600" y="197" width="1" height="42" fill="#000"/>
<rect x="598" y="208" width="5" height="31" fill="#000"/>
<rect x="599" y="209" width="3" height="29" fill="#fff"/>
<rect x="608" y="200" width="1" height="30" fill="#000"/>
<rect x="606" y="208" width="5" height="17" fill="#000"/>
<rect x="616" y="208" width="1" height="29" fill="#000"/>
<rect x="614" y="218" width="5" height="7" fill="#000"/>
<rect x="615" y="219" width="3" height="5" fill="#fff"/>
<rect x="624" y="204" width="1" height="38" fill="#000"/>
<rect x="622" y="217" width="5" height="3" fill="#000"/>
<rect x="632" y="209" width="1" height="36" fill="#000"/>
<rect x="630" y="210" width="5" height="7" fill="#000"/>
<rect x="631" y="211" width="3" height="5" fill="#fff"/>
<rect x="640" y="206" width="1" height="5" fill="#000"/>
<rect x="638" y="206" width="5" height="5" fill="#000"/>
<rect x="648" y="187" width="1" height="33" fill="#000"/>
<rect x="646" y="209" width="5" height="5" fill="#000"/>
<rect x="656" y="190" width="1" height="31" fill="#000"/>
<rect x="654" y="191" width="5" height="22" fill="#000"/>
<rect x="655" y="192" width="3" height="20" fill="#fff"/>
<rect x="664" y="172" width="1" height="21" fill="#000"/>
<rect x="662" y="183" width="5" height="10" fill="#000"/>
<rect x="663" y="184" width="3" height="8" fill="#fff"/>
<rect x="672" y="183" width="1" height="24" fill="#000"/>
<rect x="670" y="184" width="5" height="10" fill="#000"/>
<rect x="680" y="189" width="1" height="22" fill="#000"/>
<rect x="678" y="192" width="5" height="13" fill="#000"/>
<rect x="688" y="195" width="1" height="8" fill="#000"/>
<rect x="686" y="197" width="5" height="5" fill="#000"/>
<rect x="687" y="198" width="3" height="3" fill="#fff"/>
<rect x="696" y="189" width="1" height="27" fill="#000"/>
<rect x="694" y="193" width="5" height="5" fill="#000"/>
<rect x="695" y="194" width="3" height="3" fill="#fff"/>
<rect x="704" y="180" width="1" height="22" fill="#000"/>
<rect x="702" y="192" width="5" height="4" fill="#000"/>
<rect x="712" y="189" width="1" height="20" fill="#000"/>
<rect x="710" y="194" width="5" height="8" fill="#000"/>
<rect x="720" y="184" width="1" height="40" fill="#000"/>
<rect x="718" y="201" width="5" height="10" fill="#000"/>
<rect x="728" y="208" width="1" height="35" fill="#000"/>
<rect x="726" y="210" width="5" height="25" fill="#000"/>
<rect x="736" y="216" width="1" height="17" fill="#000"/>
<rect x="734" y="224" width="5" height="9" fill="#000"/>
<rect x="735" y="225" width="3" height="7" fill="#fff"/>
<rect x="744" y="199" width="1" height="31" fill="#000"/>
<rect x="742" y="201" width="5" height="26" fill="#000"/>
<rect x="743" y="202" width="3" height="24" fill="#fff"/>
<rect x="752" y="191" width="1" height="30" fill="#000"/>
<rect x="750" y="202" width="5" height="15" fill="#000"/>
<rect x="760" y="214" width="1" height="21" fill="#000"/>
<rect x="758" y="216" width="5" height="4" fill="#000"/>
<rect x="768" y="218" width="1" height="53" fill="#000"/>
<rect x="766" y="218" width="5" height="24" fill="#000"/>
<rect x="776" y="238" width="1" height="56" fill="#000"/>
<rect x="774" y="241" width="5" height="31" fill="#000"/>
<rect x="784" y="266" width="1" height="12" fill="#000"/>
<rect x="782" y="268" width="5" height="4" fill="#000"/>
<rect x="783" y="269" width="3" height="2" fill="#fff"/>
<rect x="792" y="228" width="1" height="47" fill="#000"/>
<rect x="790" y="229" width="5" height="40" fill="#000"/>
<rect x="791" y="230" width="3" height="38" fill="#fff"/>
<rect x="800" y="206" width="1" height="23" fill="#000"/>
<rect x="798" y="222" width="5" height="7" fill="#000"/>
<rect x="799" y="223" width="3" height="5" fill="#fff"/>
<rect x="808" y="208" width="1" height="27" fill="#000"/>
<rect x="806" y="223" width="5" height="2" fill="#000"/>
<rect x="816" y="212" width="1" height="31" fill="#000"/>
<rect x="814" y="222" width="5" height="8" fill="#000"/>
<rect x="824" y="225" width="1" height="24" fill="#000"/>
<rect x="822" y="225" width="5" height="4" fill="#000"/>
<rect x="823" y="226" width="3" height="2" fill="#fff"/>
<rect x="832" y="224" width="1" height="6" fill="#000"/>
<rect x="830" y="225" width="5" height="2" fill="#000"/>
<rect x="840" y="215" width="1" height="21" fill="#000"/>
<rect x="838" y="217" width="5" height="9" fill="#000"/>
<rect x="839" y="218" width="3" height="7" fill="#fff"/>
<rect x="848" y="180" width="1" height="39" fill="#000"/>
<rect x="846" y="197" width="5" height="21" fill="#000"/>
<rect x="847" y="198" width="3" height="19" fill="#fff"/>
<rect x="856" y="152" width="1" height="55" fill="#000"/>
<rect x="854" y="157" width="5" height="42" fill="#000"/>
<rect x="855" y="158" width="3" height="40" fill="#fff"/>
<rect x="864" y="143" width="1" height="21" fill="#000"/>
<rect x="862" y="146" width="5" height="12" fill="#000"/>
<rect x="863" y="147" width="3" height="10" fill="#fff"/>
<rect x="872" y="145" width="1" height="26" fill="#000"/>
<rect x="870" y="146" width="5" height="17" fill="#000"/>
<rect x="880" y="154" width="1" height="11" fill="#000"/>
<rect x="878" y="158" width="5" height="2" fill="#000"/>
<rect x="888" y="152" width="1" height="19" fill="#000"/>
<rect x="886" y="158" width="5" height="9" fill="#000"/>
<rect x="896" y="160" width="1" height="22" fill="#000"/>
<rect x="894" y="166" width="5" height="9" fill="#000"/>
<rect x="904" y="156" width="1" height="24" fill="#000"/>
<rect x="902" y="174" width="5" height="2" fill="#000"/>
<rect x="912" y="167" width="1" height="23" fill="#000"/>
<rect x="910" y="172" width="5" height="3" fill="#000"/>
<rect x="911" y="173" width="3" height="1" fill="#fff"/>
<rect x="920" y="162" width="1" height="41" fill="#000"/>
<rect x="918" y="171" width="5" height="15" fill="#000"/>
<rect x="928" y="177" width="1" height="9" fill="#000"/>
<rect x="926" y="179" width="5" height="4" fill="#000"/>
<rect x="936" y="149" width="1" height="40" fill="#000"/>
<rect x="934" y="151" width="5" height="33" fill="#000"/>
<rect x="935" y="152" width="3" height="31" fill="#fff"/>
<rect x="944" y="135" width="1" height="24" fill="#000"/>
<rect x="942" y="151" width="5" height="2" fill="#000"/>
<rect x="952" y="143" width="1" height="18" fill="#000"/>
<rect x="950" y="145" width="5" height="8" fill="#000"/>
<rect x="951" y="146" width="3" height="6" fill="#fff"/>
<rect x="960" y="143" width="1" height="19" fill="#000"/>
<rect x="958" y="144" width="5" height="9" fill="#000"/>
<rect x="968" y="139" width="1" height="76" fill="#000"/>
<rect x="966" y="151" width="5" height="31" fill="#000"/>
<rect x="976" y="153" width="1" height="16" fill="#000"/>
<rect x="974" y="156" width="5" height="7" fill="#000"/>
<rect x="975" y="157" width="3" height="5" fill="#fff"/>
<rect x="984" y="140" width="1" height="34" fill="#000"/>
<rect x="982" y="156" width="5" height="11" fill="#000"/>
<rect x="992" y="148" width="1" height="24" fill="#000"/>
<rect x="990" y="149" width="5" height="17" fill="#000"/>
<rect x="991" y="150" width="3" height="15" fill="#fff"/>
<rect x="1000" y="116" width="1" height="45" fill="#000"/>
<rect x="998" y="121" width="5" height="29" fill="#000"/>
<rect x="999" y="122" width="3" height="27" fill="#fff"/>
<rect x="1008" y="121" width="1" height="57" fill="#000"/>
<rect x="1006" y="122" width="5" height="47" fill="#000"/>
<rect x="1016" y="145" width="1" height="46" fill="#000"/>
<rect x="1014" y="158" width="5" height="10" fill="#000"/>
<rect x="1015" y="159" width="3" height="8" fill="#fff"/>
<rect x="1024" y="154" width="1" height="9" fill="#000"/>
<rect x="1022" y="160" width="5" height="3" fill="#000"/>
<rect x="1032" y="151" width="1" height="22" fill="#000"/>
<rect x="1030" y="154" width="5" height="9" fill="#000"/>
<rect x="1031" y="155" width="3" height="7" fill="#fff"/>
<rect x="1040" y="145" width="1" height="51" fill="#000"/>
<rect x="1038" y="156" width="5" height="40" fill="#000"/>
<rect x="1048" y="167" width="1" height="33" fill="#000"/>
<rect x="1046" y="169" width="5" height="27" fill="#000"/>
<rect x="1047" y="170" width="3" height="25" fill="#fff"/>
<rect x="1056" y="164" width="1" height="21" fill="#000"/>
<rect x="1054" y="170" width="5" height="2" fill="#000"/>
<rect x="1064" y="150" width="1" height="24" fill="#000"/>
<rect x="1062" y="158" width="5" height="13" fill="#000"/>
<rect x="1063" y="159" width="3" height="11" fill="#fff"/>
<rect x="1072" y="139" width="1" height="10" fill="#000"/>
<rect x="1070" y="142" width="5" height="2" fill="#000"/>
<rect x="1080" y="133" width="1" height="18" fill="#000"/>
<rect x="1078" y="142" width="5" height="7" fill="#000"/>
<rect x="1088" y="141" width="1" height="17" fill="#000"/>
<rect x="1086" y="148" width="5" height="2" fill="#000"/>
<rect x="1096" y="141" width="1" height="13" fill="#000"/>
<rect x="1094" y="149" width="5" height="2" fill="#000"/>
<rect x="1104" y="149" width="1" height="20" fill="#000"/>
<rect x="1102" y="151" width="5" height="9" fill="#000"/>
<rect x="1112" y="152" width="1" height="21" fill="#000"/>
<rect x="1110" y="158" width="5" height="9" fill="#000"/>
<rect x="1120" y="160" width="1" height="9" fill="#000"/>
<rect x="1118" y="164" width="5" height="4" fill="#000"/>
<rect x="1119" y="165" width="3" height="2" fill="#fff"/>
<rect x="1128" y="153" width="1" height="71" fill="#000"/>
<rect x="1126" y="164" width="5" height="29" fill="#000"/>
<rect x="1136" y="167" width="1" height="47" fill="#000"/>
<rect x="1134" y="168" width="5" height="25" fill="#000"/>
<rect x="1135" y="169" width="3" height="23" fill="#fff"/>
<rect x="1144" y="151" width="1" height="26" fill="#000"/>
<rect x="1142" y="167" width="5" height="6" fill="#000"/>
<rect x="1152" y="164" width="1" height="24" fill="#000"/>
<rect x="1150" y="167" width="5" height="6" fill="#000"/>
<rect x="1151" y="168" width="3" height="4" fill="#fff"/>
<rect x="1160" y="158" width="1" height="32" fill="#000"/>
<rect x="1158" y="159" width="5" height="9" fill="#000"/>
<rect x="1159" y="160" width="3" height="7" fill="#fff"/>
<rect x="1168" y="152" width="1" height="7" fill="#000"/>
<rect x="1166" y="153" width="5" height="2" fill="#000"/>
<rect x="1176" y="136" width="1" height="26" fill="#000"/>
<rect x="1174" y="137" width="5" height="18" fill="#000"/>
<rect x="1175" y="138" width="3" height="16" fill="#fff"/>
<rect x="1184" y="119" width="1" height="27" fill="#000"/>
<rect x="1182" y="131" width="5" height="8" fill="#000"/>
<rect x="1183" y="132" width="3" height="6" fill="#fff"/>
<rect x="1192" y="127" width="1" height="38" fill="#000"/>
<rect x="1190" y="132" width="5" height="14" fill="#000"/>
<rect x="1200" y="141" width="1" height="15" fill="#000"/>
<rect x="1198" y="143" width="5" height="4" fill="#000"/>
<rect x="1208" y="142" width="1" height="38" fill="#000"/>
<rect x="1206" y="148" width="5" height="12" fill="#000"/>
<rect x="1216" y="144" width="1" height="12" fill="#000"/>
<rect x="1214" y="144" width="5" height="8" fill="#000"/>
<rect x="1224" y="135" width="1" height="19" fill="#000"/>
<rect x="1222" y="139" width="5" height="11" fill="#000"/>
<rect x="1223" y="140" width="3" height="9" fill="#fff"/>
<rect x="1232" y="135" width="1" height="21" fill="#000"/>
<rect x="1230" y="139" width="5" height="12" fill="#000"/>
<rect x="1240" y="128" width="1" height="23" fill="#000"/>
<rect x="1238" y="130" width="5" height="21" fill="#000"/>
<rect x="1239" y="131" width="3" height="19" fill="#fff"/>
<rect x="1248" y="109" width="1" height="24" fill="#000"/>
<rect x="1246" y="109" width="5" height="23" fill="#000"/>
<rect x="1247" y="110" width="3" height="21" fill="#fff"/>
<rect x="1256" y="110" width="1" height="17" fill="#000"/>
<rect x="1254" y="110" width="5" height="15" fill="#000"/>
<rect x="1264" y="120" width="1" height="7" fill="#000"/>
<rect x="1262" y="122" width="5" height="2" fill="#000"/>
<rect x="1272" y="116" width="1" height="16" fill="#000"/>
<rect x="1270" y="116" width="5" height="9" fill="#000"/>
<rect x="1271" y="117" width="3" height="7" fill="#fff"/>
<rect x="1280" y="116" width="1" height="17" fill="#000"/>
<rect x="1278" y="118" width="5" height="11" fill="#000"/>
<rect x="1288" y="116" width="1" height="15" fill="#000"/>
<rect x="1286" y="125" width="5" height="2" fill="#000"/>
<rect x="1296" y="122" width="1" height="21" fill="#000"/>
<rect x="1294" y="126" width="5" height="6" fill="#000"/>
<rect x="1304" y="123" width="1" height="18" fill="#000"/>
<rect x="1302" y="127" width="5" height="5" fill="#000"/>
<rect x="1303" y="128" width="3" height="3" fill="#fff"/>
<rect x="1312" y="122" width="1" height="5" fill="#000"/>
<rect x="1310" y="123" width="5" height="4" fill="#000"/>
<rect x="1320" y="109" width="1" height="23" fill="#000"/>
<rect x="1318" y="121" width="5" height="4" fill="#000"/>
<rect x="1319" y="122" width="3" height="2" fill="#fff"/>
<rect x="1328" y="114" width="1" height="16" fill="#000"/>
<rect x="1326" y="121" width="5" height="3" fill="#000"/>
<rect x="1327" y="122" width="3" height="1" fill="#fff"/>
<rect x="1336" y="112" width="1" height="18" fill="#000"/>
<rect x="1334" y="120" width="5" height="8" fill="#000"/>
<rect x="1344" y="119" width="1" height="20" fill="#000"/>
<rect x="1342" y="125" width="5" height="4" fill="#000"/>
<rect x="1343" y="126" width="3" height="2" fill="#fff"/>
<rect x="1352" y="121" width="1" height="14" fill="#000"/>
<rect x="1350" y="124" width="5" height="3" fill="#000"/>
<rect x="1360" y="125" width="1" height="4" fill="#000"/>
<rect x="1358" y="126" width="5" height="3" fill="#000"/>
<rect x="1368" y="123" width="1" height="21" fill="#000"/>
<rect x="1366" y="128" width="5" height="12" fill="#000"/>
<rect x="1376" y="127" width="1" height="28" fill="#000"/>
<rect x="1374" y="140" width="5" height="3" fill="#000"/>
<rect x="1384" y="134" width="1" height="36" fill="#000"/>
<rect x="1382" y="141" width="5" height="20" fill="#000"/>
<rect x="1392" y="139" width="1" height="23" fill="#000"/>
<rect x="1390" y="150" width="5" height="12" fill="#000"/>
<rect x="1391" y="151" width="3" height="10" fill="#fff"/>
<rect x="1400" y="147" width="1" height="41" fill="#000"/>
<rect x="1398" y="148" width="5" height="13" fill="#000"/>
<rect x="1408" y="160" width="1" height="8" fill="#000"/>
<rect x="1406" y="162" width="5" height="6" fill="#000"/>
<rect x="1416" y="128" width="1" height="38" fill="#000"/>
<rect x="1414" y="130" width="5" height="36" fill="#000"/>
<rect x="1415" y="131" width="3" height="34" fill="#fff"/>
<rect x="1424" y="92" width="1" height="39" fill="#000"/>
<rect x="1422" y="104" width="5" height="27" fill="#000"/>
<rect x="1423" y="105" width="3" height="25" fill="#fff"/>
<rect x="1432" y="77" width="1" height="53" fill="#000"/>
<rect x="1430" y="93" width="5" height="12" fill="#000"/>
<rect x="1431" y="94" width="3" height="10" fill="#fff"/>
<rect x="1440" y="50" width="1" height="45" fill="#000"/>
<rect x="1438" y="66" width="5" height="29" fill="#000"/>
<rect x="1439" y="67" width="3" height="27" fill="#fff"/>
</g>
<g shape-rendering="crispEdges">
<rect x="0" y="29" width="1677" height="1" fill="#ff0000"/>
<rect x="0" y="49" width="1677" height="1" fill="#ff0000"/>
<rect x="0" y="66" width="1682" height="1" fill="#c0c0c0"/>
<rect x="0" y="84" width="1677" height="1" fill="#32cd32"/>
<rect x="0" y="106" width="1677" height="1" fill="#0000ff"/>
<rect x="0" y="129" width="1682" height="1" fill="#0000ff"/>
<rect x="1677.5" y="27.5" width="4" height="4" fill="#fff" stroke="#ff0000" stroke-width="1"/>
<rect x="1677.5" y="47.5" width="4" height="4" fill="#fff" stroke="#ff0000" stroke-width="1"/>
<rect x="1677.5" y="82.5" width="4" height="4" fill="#fff" stroke="#32cd32" stroke-width="1"/>
<rect x="1677.5" y="104.5" width="4" height="4" fill="#fff" stroke="#0000ff" stroke-width="1"/>
</g>
<g shape-rendering="crispEdges">
<rect x="1264" y="79" width="222" height="7" fill="#00ff00"/>
<rect x="1177" y="84" width="7" height="1" fill="#ff0000"/>
<rect x="1184.5" y="82.5" width="2" height="3" fill="#fff" stroke="#ff0000"/>
<rect x="1187.5" y="72.5" width="73" height="24" fill="#fff" stroke="#ff0000"/>
<rect x="1261" y="84" width="3" height="1" fill="#32cd32"/>
<rect x="1057.5" y="212.5" width="61" height="18" fill="#fff" stroke="#ff0000"/>
<rect x="1119" y="221" width="9" height="1" fill="#ff0000"/>
</g>
<text x="1189" y="93" font-size="22" fill="#ff0000" textLength="70" lengthAdjust="spacingAndGlyphs">23977.7</text>
<text x="1059.5" y="228" font-size="16" fill="#ff0000" textLength="57" lengthAdjust="spacingAndGlyphs">22461.6</text>
<g fill="#ff0000" stroke="#ff0000">
<polyline points="1269,113 1410,172.5" fill="none" stroke-width="4"/>
<polygon points="1401,174.5 1413.5,175.5 1404.5,165.5" stroke-width="1.5" stroke-linejoin="miter"/>
<polyline points="1412,174 1457,49" fill="none" stroke-width="4"/>
<polygon points="1453,46 1460.5,36.5 1462.5,38 1462.5,49.5 1456,49" stroke-width="1"/>
</g>
<g shape-rendering="crispEdges">
<rect x="1497.5" y="84.5" width="110" height="24" fill="none" stroke="#404040"/>
<rect x="1497" y="84" width="111" height="1" fill="#ff00ff"/>
<rect x="1550.5" y="81.5" width="2" height="2" fill="#fff" stroke="#ff00ff"/>
</g>
<path d="M1507.50,86.50 L1500.00,92.50 M1505.00,89.50 L1514.50,89.20 L1507.00,95.00 L1501.50,97.50 M1505.50,91.50 L1508.00,94.00 M1509.00,94.50 L1500.50,100.50 M1507.50,97.50 L1516.00,97.20 L1508.00,103.00 L1500.00,105.50 M1505.50,99.50 L1508.50,102.50" fill="none" stroke="#00ff00" stroke-width="1.25" stroke-linecap="square" stroke-linejoin="miter"/>
<path d="M1528.10,86.50 L1530.50,88.20 M1521.80,91.70 L1522.30,89.40 L1538.10,89.40 L1537.10,91.00 M1527.30,91.40 L1521.10,95.50 M1531.50,91.40 L1537.10,94.20 M1523.90,96.60 L1536.00,96.60 M1529.60,96.90 L1529.60,103.30 M1520.40,103.60 L1538.80,103.60" fill="none" stroke="#00ff00" stroke-width="1.25" stroke-linecap="square" stroke-linejoin="miter"/>
<path d="M1542.00,89.30 L1550.00,89.30 M1546.20,86.50 L1543.00,94.50 L1548.60,95.00 M1546.90,92.20 L1546.90,104.50 M1542.00,100.70 L1551.00,98.20 M1551.20,90.00 L1559.70,90.00 M1550.70,94.00 L1560.70,94.00 M1556.20,86.50 L1553.20,97.80 M1552.20,98.00 L1558.70,97.60 L1555.20,101.00 M1553.00,100.60 L1557.20,104.50" fill="none" stroke="#00ff00" stroke-width="1.25" stroke-linecap="square" stroke-linejoin="miter"/>
<path d="M1564.20,91.20 L1572.10,90.80 M1569.00,86.50 L1569.00,104.20 L1565.60,103.20 M1564.50,96.90 L1572.50,94.40 M1581.50,87.20 L1573.90,88.60 M1573.90,88.60 L1573.90,95.90 L1570.70,104.20 M1573.90,93.10 L1582.60,93.10 M1579.10,93.10 L1579.10,104.50" fill="none" stroke="#00ff00" stroke-width="1.25" stroke-linecap="square" stroke-linejoin="miter"/>
<path d="M1595.50,86.50 L1595.50,93.30 M1595.50,89.30 L1603.50,89.30 M1590.00,92.60 L1590.00,98.60 M1590.00,93.10 L1601.10,93.10 M1601.10,93.10 L1601.10,98.60 M1590.00,98.30 L1601.10,98.30 M1589.60,102.10 L1587.90,104.30 M1593.10,101.40 L1594.30,103.30 M1597.60,101.40 L1598.80,103.30 M1602.40,101.40 L1604.00,103.50" fill="none" stroke="#00ff00" stroke-width="1.25" stroke-linecap="square" stroke-linejoin="miter"/>
<g shape-rendering="crispEdges">
<rect x="1683" y="44" width="3" height="1" fill="#000"/>
<rect x="1683" y="77" width="3" height="1" fill="#000"/>
<rect x="1683" y="110" width="3" height="1" fill="#000"/>
<rect x="1683" y="143" width="3" height="1" fill="#000"/>
<rect x="1683" y="176" width="3" height="1" fill="#000"/>
<rect x="1683" y="209" width="3" height="1" fill="#000"/>
<rect x="1683" y="242" width="3" height="1" fill="#000"/>
<rect x="1683" y="275" width="3" height="1" fill="#000"/>
<rect x="1683" y="308" width="3" height="1" fill="#000"/>
<rect x="1683" y="341" width="3" height="1" fill="#000"/>
<rect x="1683" y="374" width="3" height="1" fill="#000"/>
<rect x="1683" y="407" width="3" height="1" fill="#000"/>
<rect x="1683" y="440" width="3" height="1" fill="#000"/>
<rect x="1683" y="473" width="3" height="1" fill="#000"/>
<rect x="1683" y="506" width="3" height="1" fill="#000"/>
<rect x="1683" y="539" width="3" height="1" fill="#000"/>
<rect x="1683" y="572" width="3" height="1" fill="#000"/>
</g>
<g font-size="9.4" fill="#000">
<text x="1688" y="48" textLength="33" lengthAdjust="spacingAndGlyphs">24424.0</text>
<text x="1688" y="81" textLength="33" lengthAdjust="spacingAndGlyphs">24061.0</text>
<text x="1688" y="114" textLength="33" lengthAdjust="spacingAndGlyphs">23698.0</text>
<text x="1688" y="147" textLength="33" lengthAdjust="spacingAndGlyphs">23324.0</text>
<text x="1688" y="180" textLength="33" lengthAdjust="spacingAndGlyphs">22961.0</text>
<text x="1688" y="213" textLength="33" lengthAdjust="spacingAndGlyphs">22598.0</text>
<text x="1688" y="246" textLength="33" lengthAdjust="spacingAndGlyphs">22235.0</text>
<text x="1688" y="279" textLength="33" lengthAdjust="spacingAndGlyphs">21872.0</text>
<text x="1688" y="312" textLength="33" lengthAdjust="spacingAndGlyphs">21498.0</text>
<text x="1688" y="345" textLength="33" lengthAdjust="spacingAndGlyphs">21135.0</text>
<text x="1688" y="378" textLength="33" lengthAdjust="spacingAndGlyphs">20772.0</text>
<text x="1688" y="411" textLength="33" lengthAdjust="spacingAndGlyphs">20409.0</text>
<text x="1688" y="444" textLength="33" lengthAdjust="spacingAndGlyphs">20035.0</text>
<text x="1688" y="477" textLength="33" lengthAdjust="spacingAndGlyphs">19672.0</text>
<text x="1688" y="510" textLength="33" lengthAdjust="spacingAndGlyphs">19309.0</text>
<text x="1688" y="543" textLength="33" lengthAdjust="spacingAndGlyphs">18946.0</text>
<text x="1688" y="576" textLength="33" lengthAdjust="spacingAndGlyphs">18583.0</text>
<text x="1686" y="588" textLength="28" lengthAdjust="spacingAndGlyphs">877.35</text>
<text x="1686" y="688" textLength="17.5" lengthAdjust="spacingAndGlyphs">0.00</text>
<text x="1686" y="744" textLength="31" lengthAdjust="spacingAndGlyphs">-521.93</text>
<text x="1686.5" y="760" textLength="14" lengthAdjust="spacingAndGlyphs">100</text>
<text x="1685" y="789" textLength="10" lengthAdjust="spacingAndGlyphs">80</text>
<text x="1685" y="840" textLength="10" lengthAdjust="spacingAndGlyphs">50</text>
<text x="1685.5" y="901" textLength="9.5" lengthAdjust="spacingAndGlyphs">15</text>
<text x="1686" y="920" textLength="5" lengthAdjust="spacingAndGlyphs">0</text>
</g>
<g shape-rendering="crispEdges">
<rect x="1683" y="579" width="2" height="1" fill="#000"/>
<rect x="1683" y="684" width="2" height="1" fill="#000"/>
<rect x="1683" y="746" width="2" height="1" fill="#000"/>
<rect x="1683" y="751" width="2" height="1" fill="#000"/>
<rect x="1683" y="922" width="2" height="1" fill="#000"/>
</g>
<g shape-rendering="crispEdges">
<rect x="1684" y="23" width="41" height="11" fill="#ff0000"/>
<rect x="1684" y="43" width="41" height="11" fill="#ff0000"/>
<rect x="1684" y="61" width="41" height="11" fill="#000000"/>
<rect x="1684" y="78" width="41" height="11" fill="#32cd32"/>
<rect x="1684" y="100" width="41" height="11" fill="#0000ff"/>
<rect x="1684" y="123" width="41" height="11" fill="#0000ff"/>
</g>
<g font-size="9.4" fill="#fff">
<text x="1688" y="32" textLength="33" lengthAdjust="spacingAndGlyphs">24591.0</text>
<text x="1688" y="52" textLength="33" lengthAdjust="spacingAndGlyphs">24375.0</text>
<text x="1688" y="70" textLength="33" lengthAdjust="spacingAndGlyphs">24177.5</text>
<text x="1688" y="87" textLength="33" lengthAdjust="spacingAndGlyphs">23977.7</text>
<text x="1688" y="109" textLength="33" lengthAdjust="spacingAndGlyphs">23734.5</text>
<text x="1688" y="132" textLength="33" lengthAdjust="spacingAndGlyphs">23486.8</text>
</g>
<g shape-rendering="crispEdges">
<rect x="56" y="924" width="1" height="3" fill="#000"/>
<rect x="120" y="924" width="1" height="3" fill="#000"/>
<rect x="184" y="924" width="1" height="3" fill="#000"/>
<rect x="248" y="924" width="1" height="3" fill="#000"/>
<rect x="312" y="924" width="1" height="3" fill="#000"/>
<rect x="376" y="924" width="1" height="3" fill="#000"/>
<rect x="440" y="924" width="1" height="3" fill="#000"/>
<rect x="504" y="924" width="1" height="3" fill="#000"/>
<rect x="568" y="924" width="1" height="3" fill="#000"/>
<rect x="632" y="924" width="1" height="3" fill="#000"/>
<rect x="696" y="924" width="1" height="3" fill="#000"/>
<rect x="760" y="924" width="1" height="3" fill="#000"/>
<rect x="824" y="924" width="1" height="3" fill="#000"/>
<rect x="888" y="924" width="1" height="3" fill="#000"/>
<rect x="952" y="924" width="1" height="3" fill="#000"/>
<rect x="1016" y="924" width="1" height="3" fill="#000"/>
<rect x="1080" y="924" width="1" height="3" fill="#000"/>
<rect x="1144" y="924" width="1" height="3" fill="#000"/>
<rect x="1208" y="924" width="1" height="3" fill="#000"/>
<rect x="1272" y="924" width="1" height="3" fill="#000"/>
<rect x="1336" y="924" width="1" height="3" fill="#000"/>
<rect x="1400" y="924" width="1" height="3" fill="#000"/>
</g>
<g font-size="9.4" fill="#000">
<text x="-9" y="936" textLength="45.8" lengthAdjust="spacingAndGlyphs">9 Apr 2020</text>
<text x="55" y="936" textLength="51.0" lengthAdjust="spacingAndGlyphs">17 Apr 2020</text>
<text x="119" y="936" textLength="51.0" lengthAdjust="spacingAndGlyphs">27 Apr 2020</text>
<text x="183" y="936" textLength="48.9" lengthAdjust="spacingAndGlyphs">6 May 2020</text>
<text x="247" y="936" textLength="54.1" lengthAdjust="spacingAndGlyphs">15 May 2020</text>
<text x="311" y="936" textLength="54.1" lengthAdjust="spacingAndGlyphs">25 May 2020</text>
<text x="375" y="936" textLength="46.3" lengthAdjust="spacingAndGlyphs">3 Jun 2020</text>
<text x="439" y="936" textLength="51.5" lengthAdjust="spacingAndGlyphs">12 Jun 2020</text>
<text x="503" y="936" textLength="51.5" lengthAdjust="spacingAndGlyphs">22 Jun 2020</text>
<text x="567" y="936" textLength="43.2" lengthAdjust="spacingAndGlyphs">1 Jul 2020</text>
<text x="631" y="936" textLength="48.4" lengthAdjust="spacingAndGlyphs">10 Jul 2020</text>
<text x="695" y="936" textLength="48.4" lengthAdjust="spacingAndGlyphs">20 Jul 2020</text>
<text x="759" y="936" textLength="48.4" lengthAdjust="spacingAndGlyphs">29 Jul 2020</text>
<text x="823" y="936" textLength="47.9" lengthAdjust="spacingAndGlyphs">7 Aug 2020</text>
<text x="887" y="936" textLength="53.1" lengthAdjust="spacingAndGlyphs">17 Aug 2020</text>
<text x="951" y="936" textLength="53.1" lengthAdjust="spacingAndGlyphs">26 Aug 2020</text>
<text x="1015" y="936" textLength="47.9" lengthAdjust="spacingAndGlyphs">4 Sep 2020</text>
<text x="1079" y="936" textLength="53.1" lengthAdjust="spacingAndGlyphs">14 Sep 2020</text>
<text x="1143" y="936" textLength="53.1" lengthAdjust="spacingAndGlyphs">23 Sep 2020</text>
<text x="1207" y="936" textLength="45.8" lengthAdjust="spacingAndGlyphs">2 Oct 2020</text>
<text x="1271" y="936" textLength="51.0" lengthAdjust="spacingAndGlyphs">12 Oct 2020</text>
<text x="1335" y="936" textLength="51.0" lengthAdjust="spacingAndGlyphs">21 Oct 2020</text>
<text x="1399" y="936" textLength="51.0" lengthAdjust="spacingAndGlyphs">30 Oct 2020</text>
</g>
<text x="7" y="34" font-size="9.3" fill="#000" textLength="207" lengthAdjust="spacingAndGlyphs" xml:space="preserve">JPN225-,Daily  23872.5 24367.5 23852.5 24177.5</text>
<polygon points="0,31 3,31 1.5,28.5" fill="#000"/>
<text x="-2" y="590" font-size="10" fill="#000" textLength="121" lengthAdjust="spacingAndGlyphs">MACD(12,26,9) 102.60 16.57</text>
<text x="-2" y="761.5" font-size="10" fill="#000" textLength="66" lengthAdjust="spacingAndGlyphs">RSI(14) 69.8353</text>
<defs><linearGradient id="gbtn" x1="0" y1="0" x2="0" y2="1"><stop offset="0" stop-color="#f85a5a"/><stop offset="1" stop-color="#e03636"/></linearGradient><linearGradient id="gpx" x1="0" y1="0" x2="0" y2="1"><stop offset="0" stop-color="#e03434"/><stop offset="1" stop-color="#b00404"/></linearGradient><linearGradient id="garr" x1="0" y1="0" x2="0" y2="1"><stop offset="0" stop-color="#ececec"/><stop offset="1" stop-color="#c8c8c8"/></linearGradient></defs>
<g shape-rendering="crispEdges">
<rect x="0" y="41" width="215" height="66" fill="#fff"/>
<rect x="0" y="42" width="47" height="24" fill="#b01010"/>
<rect x="0" y="43" width="46" height="22" fill="url(#gbtn)"/>
<rect x="0" y="65" width="44" height="1" fill="#8a0000"/>
<rect x="162" y="42" width="52" height="24" fill="#b01010"/>
<rect x="163" y="43" width="50" height="22" fill="url(#gbtn)"/>
<rect x="166" y="65" width="44" height="1" fill="#8a0000"/>
<rect x="49" y="42" width="112" height="22" fill="#a8a8b0"/>
<rect x="50" y="43" width="110" height="20" fill="#fff"/>
<rect x="50" y="43" width="20" height="20" fill="url(#garr)"/>
<rect x="70" y="43" width="1" height="20" fill="#a8a8b0"/>
<rect x="139" y="43" width="21" height="20" fill="url(#garr)"/>
<rect x="138" y="43" width="1" height="20" fill="#a8a8b0"/>
<rect x="0" y="66" width="104" height="40" fill="#a00000"/>
<rect x="0" y="67" width="103" height="39" fill="url(#gpx)"/>
<rect x="106" y="66" width="108" height="40" fill="#a00000"/>
<rect x="107" y="67" width="106" height="39" fill="url(#gpx)"/>
</g>
<polygon points="57,52 62,52 59.5,55" fill="#4a6ac8"/>
<polygon points="146,55 151,55 148.5,52" fill="#4a6ac8"/>
<g fill="#fff">
<text x="7" y="58" font-size="12" textLength="26" lengthAdjust="spacingAndGlyphs">SELL</text>
<text x="176" y="58" font-size="12" textLength="23" lengthAdjust="spacingAndGlyphs">BUY</text>
<text x="11" y="97" font-size="12" font-weight="bold" textLength="34.5" lengthAdjust="spacingAndGlyphs">24176</text>
<text x="121.5" y="97" font-size="12" font-weight="bold" textLength="34" lengthAdjust="spacingAndGlyphs">24199</text>
<circle cx="52.6" cy="95" r="2.2"/>
<circle cx="163.2" cy="95" r="2.2"/>
<rect x="58.2" y="74.1" width="13.6" height="21.8" rx="6.8" ry="8.5" fill="none" stroke="#fff" stroke-width="2.1"/>
<rect x="168.7" y="74.1" width="13.6" height="21.8" rx="6.8" ry="8.5" fill="none" stroke="#fff" stroke-width="2.1"/>
</g>
<text x="112" y="58" font-size="12" fill="#000" textLength="22.6" lengthAdjust="spacingAndGlyphs">1.00</text>
<polygon points="1440.5,23 1449,23 1444.75,27.5" fill="#c0c0c0"/>
<g clip-path="url(#cmacd)" shape-rendering="crispEdges">
<rect x="0" y="684" width="1" height="14" fill="#c0c0c0"/>
<rect x="8" y="684" width="1" height="7" fill="#c0c0c0"/>
<rect x="16" y="684" width="1" height="3" fill="#c0c0c0"/>
<rect x="24" y="683" width="1" height="2" fill="#c0c0c0"/>
<rect x="32" y="677" width="1" height="8" fill="#c0c0c0"/>
<rect x="40" y="676" width="1" height="9" fill="#c0c0c0"/>
<rect x="48" y="670" width="1" height="15" fill="#c0c0c0"/>
<rect x="56" y="667" width="1" height="18" fill="#c0c0c0"/>
<rect x="64" y="665" width="1" height="20" fill="#c0c0c0"/>
<rect x="72" y="665" width="1" height="20" fill="#c0c0c0"/>
<rect x="80" y="668" width="1" height="17" fill="#c0c0c0"/>
<rect x="88" y="669" width="1" height="16" fill="#c0c0c0"/>
<rect x="96" y="670" width="1" height="15" fill="#c0c0c0"/>
<rect x="104" y="669" width="1" height="16" fill="#c0c0c0"/>
<rect x="112" y="669" width="1" height="16" fill="#c0c0c0"/>
<rect x="120" y="666" width="1" height="19" fill="#c0c0c0"/>
<rect x="128" y="662" width="1" height="23" fill="#c0c0c0"/>
<rect x="136" y="656" width="1" height="29" fill="#c0c0c0"/>
<rect x="144" y="654" width="1" height="31" fill="#c0c0c0"/>
<rect x="152" y="658" width="1" height="27" fill="#c0c0c0"/>
<rect x="160" y="664" width="1" height="21" fill="#c0c0c0"/>
<rect x="168" y="667" width="1" height="18" fill="#c0c0c0"/>
<rect x="176" y="667" width="1" height="18" fill="#c0c0c0"/>
<rect x="184" y="670" width="1" height="15" fill="#c0c0c0"/>
<rect x="192" y="667" width="1" height="18" fill="#c0c0c0"/>
<rect x="200" y="663" width="1" height="22" fill="#c0c0c0"/>
<rect x="208" y="658" width="1" height="27" fill="#c0c0c0"/>
<rect x="216" y="654" width="1" height="31" fill="#c0c0c0"/>
<rect x="224" y="655" width="1" height="30" fill="#c0c0c0"/>
<rect x="232" y="655" width="1" height="30" fill="#c0c0c0"/>
<rect x="240" y="655" width="1" height="30" fill="#c0c0c0"/>
<rect x="248" y="657" width="1" height="28" fill="#c0c0c0"/>
<rect x="256" y="657" width="1" height="28" fill="#c0c0c0"/>
<rect x="264" y="653" width="1" height="32" fill="#c0c0c0"/>
<rect x="272" y="652" width="1" height="33" fill="#c0c0c0"/>
<rect x="280" y="649" width="1" height="36" fill="#c0c0c0"/>
<rect x="288" y="649" width="1" height="36" fill="#c0c0c0"/>
<rect x="296" y="649" width="1" height="36" fill="#c0c0c0"/>
<rect x="304" y="648" width="1" height="37" fill="#c0c0c0"/>
<rect x="312" y="645" width="1" height="40" fill="#c0c0c0"/>
<rect x="320" y="641" width="1" height="44" fill="#c0c0c0"/>
<rect x="328" y="633" width="1" height="52" fill="#c0c0c0"/>
<rect x="336" y="627" width="1" height="58" fill="#c0c0c0"/>
<rect x="344" y="622" width="1" height="63" fill="#c0c0c0"/>
<rect x="352" y="618" width="1" height="67" fill="#c0c0c0"/>
<rect x="360" y="614" width="1" height="71" fill="#c0c0c0"/>
<rect x="368" y="605" width="1" height="80" fill="#c0c0c0"/>
<rect x="376" y="598" width="1" height="87" fill="#c0c0c0"/>
<rect x="384" y="597" width="1" height="88" fill="#c0c0c0"/>
<rect x="392" y="591" width="1" height="94" fill="#c0c0c0"/>
<rect x="400" y="588" width="1" height="97" fill="#c0c0c0"/>
<rect x="408" y="587" width="1" height="98" fill="#c0c0c0"/>
<rect x="416" y="590" width="1" height="95" fill="#c0c0c0"/>
<rect x="424" y="595" width="1" height="90" fill="#c0c0c0"/>
<rect x="432" y="607" width="1" height="78" fill="#c0c0c0"/>
<rect x="440" y="615" width="1" height="70" fill="#c0c0c0"/>
<rect x="448" y="624" width="1" height="61" fill="#c0c0c0"/>
<rect x="456" y="630" width="1" height="55" fill="#c0c0c0"/>
<rect x="464" y="633" width="1" height="52" fill="#c0c0c0"/>
<rect x="472" y="636" width="1" height="49" fill="#c0c0c0"/>
<rect x="480" y="638" width="1" height="47" fill="#c0c0c0"/>
<rect x="488" y="642" width="1" height="43" fill="#c0c0c0"/>
<rect x="496" y="646" width="1" height="39" fill="#c0c0c0"/>
<rect x="504" y="646" width="1" height="39" fill="#c0c0c0"/>
<rect x="512" y="647" width="1" height="38" fill="#c0c0c0"/>
<rect x="520" y="652" width="1" height="33" fill="#c0c0c0"/>
<rect x="528" y="654" width="1" height="31" fill="#c0c0c0"/>
<rect x="536" y="657" width="1" height="28" fill="#c0c0c0"/>
<rect x="544" y="661" width="1" height="24" fill="#c0c0c0"/>
<rect x="552" y="662" width="1" height="23" fill="#c0c0c0"/>
<rect x="560" y="664" width="1" height="21" fill="#c0c0c0"/>
<rect x="568" y="667" width="1" height="18" fill="#c0c0c0"/>
<rect x="576" y="669" width="1" height="16" fill="#c0c0c0"/>
<rect x="584" y="671" width="1" height="14" fill="#c0c0c0"/>
<rect x="592" y="672" width="1" height="13" fill="#c0c0c0"/>
<rect x="600" y="669" width="1" height="16" fill="#c0c0c0"/>
<rect x="608" y="669" width="1" height="16" fill="#c0c0c0"/>
<rect x="616" y="669" width="1" height="16" fill="#c0c0c0"/>
<rect x="624" y="669" width="1" height="16" fill="#c0c0c0"/>
<rect x="632" y="668" width="1" height="17" fill="#c0c0c0"/>
<rect x="640" y="667" width="1" height="18" fill="#c0c0c0"/>
<rect x="648" y="668" width="1" height="17" fill="#c0c0c0"/>
<rect x="656" y="666" width="1" height="19" fill="#c0c0c0"/>
<rect x="664" y="663" width="1" height="22" fill="#c0c0c0"/>
<rect x="672" y="663" width="1" height="22" fill="#c0c0c0"/>
<rect x="680" y="664" width="1" height="21" fill="#c0c0c0"/>
<rect x="688" y="664" width="1" height="21" fill="#c0c0c0"/>
<rect x="696" y="664" width="1" height="21" fill="#c0c0c0"/>
<rect x="704" y="665" width="1" height="20" fill="#c0c0c0"/>
<rect x="712" y="666" width="1" height="19" fill="#c0c0c0"/>
<rect x="720" y="668" width="1" height="17" fill="#c0c0c0"/>
<rect x="728" y="672" width="1" height="13" fill="#c0c0c0"/>
<rect x="736" y="675" width="1" height="10" fill="#c0c0c0"/>
<rect x="744" y="675" width="1" height="10" fill="#c0c0c0"/>
<rect x="752" y="676" width="1" height="9" fill="#c0c0c0"/>
<rect x="760" y="678" width="1" height="7" fill="#c0c0c0"/>
<rect x="768" y="681" width="1" height="4" fill="#c0c0c0"/>
<rect x="776" y="684" width="1" height="4" fill="#c0c0c0"/>
<rect x="784" y="684" width="1" height="8" fill="#c0c0c0"/>
<rect x="792" y="684" width="1" height="8" fill="#c0c0c0"/>
<rect x="800" y="684" width="1" height="6" fill="#c0c0c0"/>
<rect x="808" y="684" width="1" height="5" fill="#c0c0c0"/>
<rect x="816" y="684" width="1" height="5" fill="#c0c0c0"/>
<rect x="824" y="684" width="1" height="4" fill="#c0c0c0"/>
<rect x="832" y="684" width="1" height="4" fill="#c0c0c0"/>
<rect x="840" y="684" width="1" height="2" fill="#c0c0c0"/>
<rect x="848" y="682" width="1" height="3" fill="#c0c0c0"/>
<rect x="856" y="676" width="1" height="9" fill="#c0c0c0"/>
<rect x="864" y="669" width="1" height="16" fill="#c0c0c0"/>
<rect x="872" y="666" width="1" height="19" fill="#c0c0c0"/>
<rect x="880" y="664" width="1" height="21" fill="#c0c0c0"/>
<rect x="888" y="663" width="1" height="22" fill="#c0c0c0"/>
<rect x="896" y="663" width="1" height="22" fill="#c0c0c0"/>
<rect x="904" y="664" width="1" height="21" fill="#c0c0c0"/>
<rect x="912" y="664" width="1" height="21" fill="#c0c0c0"/>
<rect x="920" y="666" width="1" height="19" fill="#c0c0c0"/>
<rect x="928" y="667" width="1" height="18" fill="#c0c0c0"/>
<rect x="936" y="665" width="1" height="20" fill="#c0c0c0"/>
<rect x="944" y="664" width="1" height="21" fill="#c0c0c0"/>
<rect x="952" y="662" width="1" height="23" fill="#c0c0c0"/>
<rect x="960" y="662" width="1" height="23" fill="#c0c0c0"/>
<rect x="968" y="665" width="1" height="20" fill="#c0c0c0"/>
<rect x="976" y="665" width="1" height="20" fill="#c0c0c0"/>
<rect x="984" y="667" width="1" height="18" fill="#c0c0c0"/>
<rect x="992" y="666" width="1" height="19" fill="#c0c0c0"/>
<rect x="1000" y="663" width="1" height="22" fill="#c0c0c0"/>
<rect x="1008" y="666" width="1" height="19" fill="#c0c0c0"/>
<rect x="1016" y="667" width="1" height="18" fill="#c0c0c0"/>
<rect x="1024" y="669" width="1" height="16" fill="#c0c0c0"/>
<rect x="1032" y="669" width="1" height="16" fill="#c0c0c0"/>
<rect x="1040" y="674" width="1" height="11" fill="#c0c0c0"/>
<rect x="1048" y="675" width="1" height="10" fill="#c0c0c0"/>
<rect x="1056" y="677" width="1" height="8" fill="#c0c0c0"/>
<rect x="1064" y="676" width="1" height="9" fill="#c0c0c0"/>
<rect x="1072" y="674" width="1" height="11" fill="#c0c0c0"/>
<rect x="1080" y="674" width="1" height="11" fill="#c0c0c0"/>
<rect x="1088" y="673" width="1" height="12" fill="#c0c0c0"/>
<rect x="1096" y="674" width="1" height="11" fill="#c0c0c0"/>
<rect x="1104" y="675" width="1" height="10" fill="#c0c0c0"/>
<rect x="1112" y="676" width="1" height="9" fill="#c0c0c0"/>
<rect x="1120" y="677" width="1" height="8" fill="#c0c0c0"/>
<rect x="1128" y="681" width="1" height="4" fill="#c0c0c0"/>
<rect x="1136" y="682" width="1" height="3" fill="#c0c0c0"/>
<rect x="1144" y="683" width="1" height="2" fill="#c0c0c0"/>
<rect x="1152" y="683" width="1" height="2" fill="#c0c0c0"/>
<rect x="1160" y="682" width="1" height="3" fill="#c0c0c0"/>
<rect x="1168" y="681" width="1" height="4" fill="#c0c0c0"/>
<rect x="1176" y="679" width="1" height="6" fill="#c0c0c0"/>
<rect x="1184" y="676" width="1" height="9" fill="#c0c0c0"/>
<rect x="1192" y="676" width="1" height="9" fill="#c0c0c0"/>
<rect x="1200" y="676" width="1" height="9" fill="#c0c0c0"/>
<rect x="1208" y="677" width="1" height="8" fill="#c0c0c0"/>
<rect x="1216" y="677" width="1" height="8" fill="#c0c0c0"/>
<rect x="1224" y="676" width="1" height="9" fill="#c0c0c0"/>
<rect x="1232" y="677" width="1" height="8" fill="#c0c0c0"/>
<rect x="1240" y="675" width="1" height="10" fill="#c0c0c0"/>
<rect x="1248" y="672" width="1" height="13" fill="#c0c0c0"/>
<rect x="1256" y="671" width="1" height="14" fill="#c0c0c0"/>
<rect x="1264" y="670" width="1" height="15" fill="#c0c0c0"/>
<rect x="1272" y="669" width="1" height="16" fill="#c0c0c0"/>
<rect x="1280" y="670" width="1" height="15" fill="#c0c0c0"/>
<rect x="1288" y="670" width="1" height="15" fill="#c0c0c0"/>
<rect x="1296" y="671" width="1" height="14" fill="#c0c0c0"/>
<rect x="1304" y="671" width="1" height="14" fill="#c0c0c0"/>
<rect x="1312" y="672" width="1" height="13" fill="#c0c0c0"/>
<rect x="1320" y="672" width="1" height="13" fill="#c0c0c0"/>
<rect x="1328" y="672" width="1" height="13" fill="#c0c0c0"/>
<rect x="1336" y="673" width="1" height="12" fill="#c0c0c0"/>
<rect x="1344" y="673" width="1" height="12" fill="#c0c0c0"/>
<rect x="1352" y="674" width="1" height="11" fill="#c0c0c0"/>
<rect x="1360" y="675" width="1" height="10" fill="#c0c0c0"/>
<rect x="1368" y="677" width="1" height="8" fill="#c0c0c0"/>
<rect x="1376" y="679" width="1" height="6" fill="#c0c0c0"/>
<rect x="1384" y="682" width="1" height="3" fill="#c0c0c0"/>
<rect x="1392" y="684" width="1" height="1" fill="#c0c0c0"/>
<rect x="1400" y="684" width="1" height="3" fill="#c0c0c0"/>
<rect x="1408" y="684" width="1" height="6" fill="#c0c0c0"/>
<rect x="1416" y="684" width="1" height="4" fill="#c0c0c0"/>
<rect x="1424" y="683" width="1" height="2" fill="#c0c0c0"/>
<rect x="1432" y="678" width="1" height="7" fill="#c0c0c0"/>
<rect x="1440" y="672" width="1" height="13" fill="#c0c0c0"/>
<polyline points="0.5,733.5 8.5,724.5 16.5,716.5 24.5,708.5 32.5,701.5 40.5,695.5 48.5,689.5 56.5,683.5 64.5,679.5 72.5,675.5 80.5,673.5 88.5,671.5 96.5,669.5 104.5,668.5 112.5,668.5 120.5,667.5 128.5,666.5 136.5,665.5 144.5,664.5 152.5,663.5 160.5,662.5 168.5,662.5 176.5,662.5 184.5,662.5 192.5,662.5 200.5,662.5 208.5,663.5 216.5,663.5 224.5,662.5 232.5,661.5 240.5,660.5 248.5,659.5 256.5,657.5 264.5,656.5 272.5,655.5 280.5,654.5 288.5,653.5 296.5,652.5 304.5,652.5 312.5,651.5 320.5,649.5 328.5,646.5 336.5,643.5 344.5,640.5 352.5,636.5 360.5,632.5 368.5,628.5 376.5,622.5 384.5,617.5 392.5,611.5 400.5,606.5 408.5,602.5 416.5,598.5 424.5,596.5 432.5,595.5 440.5,596.5 448.5,599.5 456.5,603.5 464.5,607.5 472.5,612.5 480.5,618.5 488.5,624.5 496.5,630.5 504.5,634.5 512.5,638.5 520.5,641.5 528.5,643.5 536.5,646.5 544.5,649.5 552.5,651.5 560.5,654.5 568.5,656.5 576.5,659.5 584.5,661.5 592.5,663.5 600.5,665.5 608.5,666.5 616.5,667.5 624.5,668.5 632.5,669.5 640.5,669.5 648.5,669.5 656.5,668.5 664.5,667.5 672.5,666.5 680.5,666.5 688.5,665.5 696.5,665.5 704.5,664.5 712.5,664.5 720.5,664.5 728.5,665.5 736.5,666.5 744.5,668.5 752.5,669.5 760.5,670.5 768.5,672.5 776.5,675.5 784.5,678.5 792.5,680.5 800.5,682.5 808.5,684.5 816.5,685.5 824.5,686.5 832.5,687.5 840.5,688.5 848.5,687.5 856.5,685.5 864.5,683.5 872.5,681.5 880.5,678.5 888.5,675.5 896.5,672.5 904.5,670.5 912.5,667.5 920.5,665.5 928.5,665.5 936.5,664.5 944.5,664.5 952.5,664.5 960.5,664.5 968.5,664.5 976.5,664.5 984.5,664.5 992.5,664.5 1000.5,664.5 1008.5,664.5 1016.5,664.5 1024.5,665.5 1032.5,666.5 1040.5,667.5 1048.5,668.5 1056.5,669.5 1064.5,670.5 1072.5,671.5 1080.5,672.5 1088.5,673.5 1096.5,674.5 1104.5,674.5 1112.5,674.5 1120.5,675.5 1128.5,675.5 1136.5,676.5 1144.5,677.5 1152.5,678.5 1160.5,679.5 1168.5,680.5 1176.5,680.5 1184.5,680.5 1192.5,680.5 1200.5,679.5 1208.5,679.5 1216.5,678.5 1224.5,677.5 1232.5,677.5 1240.5,676.5 1248.5,675.5 1256.5,675.5 1264.5,674.5 1272.5,673.5 1280.5,672.5 1288.5,672.5 1296.5,671.5 1304.5,670.5 1312.5,670.5 1320.5,670.5 1328.5,670.5 1336.5,670.5 1344.5,671.5 1352.5,671.5 1360.5,672.5 1368.5,673.5 1376.5,673.5 1384.5,675.5 1392.5,676.5 1400.5,677.5 1408.5,679.5 1416.5,681.5 1424.5,682.5 1432.5,682.5 1440.5,682.5" fill="none" stroke="#ff0000" stroke-width="1" stroke-dasharray="3 3"/>
</g>
<g clip-path="url(#crsi)" shape-rendering="crispEdges">
<line x1="0" y1="785.5" x2="1682" y2="785.5" stroke="#c0c0c0" stroke-width="1" stroke-dasharray="3 3"/>
<line x1="0" y1="836.5" x2="1682" y2="836.5" stroke="#c0c0c0" stroke-width="1" stroke-dasharray="3 3"/>
<line x1="0" y1="897.5" x2="1682" y2="897.5" stroke="#c0c0c0" stroke-width="1" stroke-dasharray="3 3"/>
<polyline points="0.5,828.5 8.5,829.5 16.5,831.5 24.5,833.5 32.5,827.5 40.5,832.5 48.5,825.5 56.5,827.5 64.5,828.5 72.5,830.5 80.5,837.5 88.5,833.5 96.5,833.5 104.5,830.5 112.5,830.5 120.5,823.5 128.5,820.5 136.5,813.5 144.5,823.5 152.5,834.5 160.5,840.5 168.5,836.5 176.5,832.5 184.5,836.5 192.5,825.5 200.5,819.5 208.5,817.5 216.5,816.5 224.5,826.5 232.5,825.5 240.5,824.5 248.5,828.5 256.5,826.5 264.5,814.5 272.5,821.5 280.5,815.5 288.5,820.5 296.5,820.5 304.5,817.5 312.5,811.5 320.5,805.5 328.5,798.5 336.5,797.5 344.5,794.5 352.5,795.5 360.5,791.5 368.5,784.5 376.5,782.5 384.5,794.5 392.5,788.5 400.5,788.5 408.5,790.5 416.5,801.5 424.5,807.5 432.5,832.5 440.5,826.5 448.5,829.5 456.5,828.5 464.5,820.5 472.5,824.5 480.5,821.5 488.5,826.5 496.5,827.5 504.5,819.5 512.5,822.5 520.5,832.5 528.5,826.5 536.5,832.5 544.5,834.5 552.5,827.5 560.5,830.5 568.5,836.5 576.5,832.5 584.5,835.5 592.5,831.5 600.5,821.5 608.5,828.5 616.5,826.5 624.5,826.5 632.5,823.5 640.5,823.5 648.5,825.5 656.5,816.5 664.5,813.5 672.5,819.5 680.5,825.5 688.5,822.5 696.5,821.5 704.5,821.5 712.5,826.5 720.5,832.5 728.5,845.5 736.5,840.5 744.5,827.5 752.5,836.5 760.5,837.5 768.5,848.5 776.5,860.5 784.5,858.5 792.5,837.5 800.5,834.5 808.5,835.5 816.5,838.5 824.5,836.5 832.5,836.5 840.5,831.5 848.5,821.5 856.5,807.5 864.5,803.5 872.5,813.5 880.5,812.5 888.5,816.5 896.5,822.5 904.5,822.5 912.5,821.5 920.5,829.5 928.5,827.5 936.5,813.5 944.5,814.5 952.5,811.5 960.5,815.5 968.5,835.5 976.5,823.5 984.5,829.5 992.5,821.5 1000.5,811.5 1008.5,834.5 1016.5,830.5 1024.5,832.5 1032.5,828.5 1040.5,845.5 1048.5,835.5 1056.5,836.5 1064.5,830.5 1072.5,825.5 1080.5,827.5 1088.5,828.5 1096.5,829.5 1104.5,833.5 1112.5,837.5 1120.5,836.5 1128.5,849.5 1136.5,837.5 1144.5,838.5 1152.5,836.5 1160.5,832.5 1168.5,830.5 1176.5,821.5 1184.5,819.5 1192.5,827.5 1200.5,828.5 1208.5,836.5 1216.5,832.5 1224.5,825.5 1232.5,832.5 1240.5,822.5 1248.5,813.5 1256.5,822.5 1264.5,822.5 1272.5,819.5 1280.5,827.5 1288.5,826.5 1296.5,829.5 1304.5,827.5 1312.5,826.5 1320.5,823.5 1328.5,823.5 1336.5,828.5 1344.5,827.5 1352.5,827.5 1360.5,829.5 1368.5,840.5 1376.5,842.5 1384.5,856.5 1392.5,846.5 1400.5,853.5 1408.5,858.5 1416.5,829.5 1424.5,816.5 1432.5,811.5 1440.5,801.5" fill="none" stroke="#1e90ff" stroke-width="1"/>
</g>

</svg>

</body></html>
